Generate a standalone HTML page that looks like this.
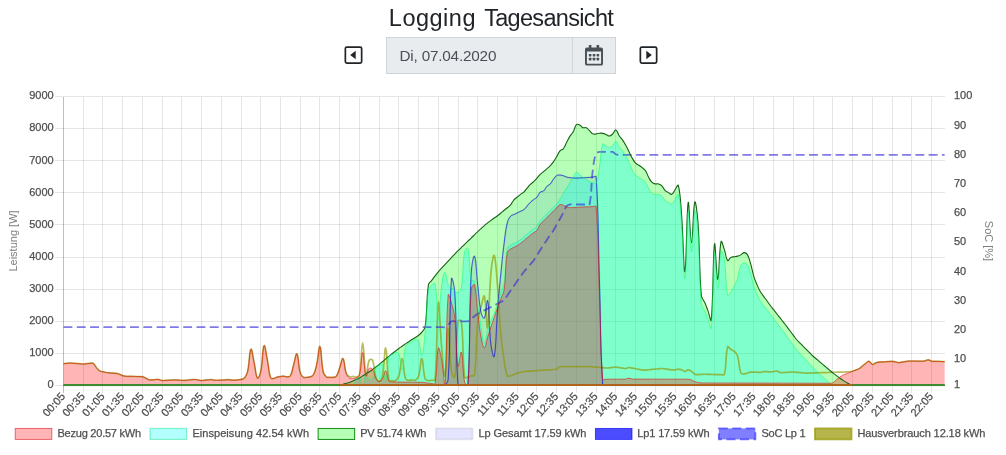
<!DOCTYPE html>
<html lang="de">
<head>
<meta charset="utf-8">
<title>Logging Tagesansicht</title>
<style>
html,body{margin:0;padding:0;background:#fff;}
body{width:1006px;height:455px;position:relative;overflow:hidden;font-family:"Liberation Sans",Arial,sans-serif;}
#title{position:absolute;left:-2px;top:2px;width:1006px;text-align:center;font-size:23.5px;line-height:32px;color:#212529;letter-spacing:-0.08px;}
#datebox{position:absolute;left:386px;top:37px;width:230px;height:37px;box-sizing:border-box;border:1px solid #ced4da;background:#e9ecef;border-radius:0;}
#datebox .txt{position:absolute;left:12.5px;top:0;line-height:35px;font-size:15.3px;color:#495057;letter-spacing:-0.2px;}
#datebox .sep{position:absolute;left:185px;top:0;width:1px;height:35px;background:#ced4da;}
.ico{position:absolute;}
</style>
</head>
<body>
<svg width="1006" height="455" viewBox="0 0 1006 455" style="position:absolute;left:0;top:0">
<g shape-rendering="crispEdges"><line x1="63.5" y1="96.5" x2="63.5" y2="392.8" stroke="rgba(0,0,0,0.25)" stroke-width="1"/>
<line x1="83.5" y1="96.5" x2="83.5" y2="392.8" stroke="rgba(0,0,0,0.1)" stroke-width="1"/>
<line x1="102.5" y1="96.5" x2="102.5" y2="392.8" stroke="rgba(0,0,0,0.1)" stroke-width="1"/>
<line x1="122.5" y1="96.5" x2="122.5" y2="392.8" stroke="rgba(0,0,0,0.1)" stroke-width="1"/>
<line x1="142.5" y1="96.5" x2="142.5" y2="392.8" stroke="rgba(0,0,0,0.1)" stroke-width="1"/>
<line x1="162.5" y1="96.5" x2="162.5" y2="392.8" stroke="rgba(0,0,0,0.1)" stroke-width="1"/>
<line x1="181.5" y1="96.5" x2="181.5" y2="392.8" stroke="rgba(0,0,0,0.1)" stroke-width="1"/>
<line x1="201.5" y1="96.5" x2="201.5" y2="392.8" stroke="rgba(0,0,0,0.1)" stroke-width="1"/>
<line x1="221.5" y1="96.5" x2="221.5" y2="392.8" stroke="rgba(0,0,0,0.1)" stroke-width="1"/>
<line x1="241.5" y1="96.5" x2="241.5" y2="392.8" stroke="rgba(0,0,0,0.1)" stroke-width="1"/>
<line x1="260.5" y1="96.5" x2="260.5" y2="392.8" stroke="rgba(0,0,0,0.1)" stroke-width="1"/>
<line x1="280.5" y1="96.5" x2="280.5" y2="392.8" stroke="rgba(0,0,0,0.1)" stroke-width="1"/>
<line x1="300.5" y1="96.5" x2="300.5" y2="392.8" stroke="rgba(0,0,0,0.1)" stroke-width="1"/>
<line x1="319.5" y1="96.5" x2="319.5" y2="392.8" stroke="rgba(0,0,0,0.1)" stroke-width="1"/>
<line x1="339.5" y1="96.5" x2="339.5" y2="392.8" stroke="rgba(0,0,0,0.1)" stroke-width="1"/>
<line x1="359.5" y1="96.5" x2="359.5" y2="392.8" stroke="rgba(0,0,0,0.1)" stroke-width="1"/>
<line x1="379.5" y1="96.5" x2="379.5" y2="392.8" stroke="rgba(0,0,0,0.1)" stroke-width="1"/>
<line x1="398.5" y1="96.5" x2="398.5" y2="392.8" stroke="rgba(0,0,0,0.1)" stroke-width="1"/>
<line x1="418.5" y1="96.5" x2="418.5" y2="392.8" stroke="rgba(0,0,0,0.1)" stroke-width="1"/>
<line x1="438.5" y1="96.5" x2="438.5" y2="392.8" stroke="rgba(0,0,0,0.1)" stroke-width="1"/>
<line x1="458.5" y1="96.5" x2="458.5" y2="392.8" stroke="rgba(0,0,0,0.1)" stroke-width="1"/>
<line x1="477.5" y1="96.5" x2="477.5" y2="392.8" stroke="rgba(0,0,0,0.1)" stroke-width="1"/>
<line x1="497.5" y1="96.5" x2="497.5" y2="392.8" stroke="rgba(0,0,0,0.1)" stroke-width="1"/>
<line x1="517.5" y1="96.5" x2="517.5" y2="392.8" stroke="rgba(0,0,0,0.1)" stroke-width="1"/>
<line x1="536.5" y1="96.5" x2="536.5" y2="392.8" stroke="rgba(0,0,0,0.1)" stroke-width="1"/>
<line x1="556.5" y1="96.5" x2="556.5" y2="392.8" stroke="rgba(0,0,0,0.1)" stroke-width="1"/>
<line x1="576.5" y1="96.5" x2="576.5" y2="392.8" stroke="rgba(0,0,0,0.1)" stroke-width="1"/>
<line x1="596.5" y1="96.5" x2="596.5" y2="392.8" stroke="rgba(0,0,0,0.1)" stroke-width="1"/>
<line x1="615.5" y1="96.5" x2="615.5" y2="392.8" stroke="rgba(0,0,0,0.1)" stroke-width="1"/>
<line x1="635.5" y1="96.5" x2="635.5" y2="392.8" stroke="rgba(0,0,0,0.1)" stroke-width="1"/>
<line x1="655.5" y1="96.5" x2="655.5" y2="392.8" stroke="rgba(0,0,0,0.1)" stroke-width="1"/>
<line x1="675.5" y1="96.5" x2="675.5" y2="392.8" stroke="rgba(0,0,0,0.1)" stroke-width="1"/>
<line x1="694.5" y1="96.5" x2="694.5" y2="392.8" stroke="rgba(0,0,0,0.1)" stroke-width="1"/>
<line x1="714.5" y1="96.5" x2="714.5" y2="392.8" stroke="rgba(0,0,0,0.1)" stroke-width="1"/>
<line x1="734.5" y1="96.5" x2="734.5" y2="392.8" stroke="rgba(0,0,0,0.1)" stroke-width="1"/>
<line x1="753.5" y1="96.5" x2="753.5" y2="392.8" stroke="rgba(0,0,0,0.1)" stroke-width="1"/>
<line x1="773.5" y1="96.5" x2="773.5" y2="392.8" stroke="rgba(0,0,0,0.1)" stroke-width="1"/>
<line x1="793.5" y1="96.5" x2="793.5" y2="392.8" stroke="rgba(0,0,0,0.1)" stroke-width="1"/>
<line x1="813.5" y1="96.5" x2="813.5" y2="392.8" stroke="rgba(0,0,0,0.1)" stroke-width="1"/>
<line x1="832.5" y1="96.5" x2="832.5" y2="392.8" stroke="rgba(0,0,0,0.1)" stroke-width="1"/>
<line x1="852.5" y1="96.5" x2="852.5" y2="392.8" stroke="rgba(0,0,0,0.1)" stroke-width="1"/>
<line x1="872.5" y1="96.5" x2="872.5" y2="392.8" stroke="rgba(0,0,0,0.1)" stroke-width="1"/>
<line x1="892.5" y1="96.5" x2="892.5" y2="392.8" stroke="rgba(0,0,0,0.1)" stroke-width="1"/>
<line x1="911.5" y1="96.5" x2="911.5" y2="392.8" stroke="rgba(0,0,0,0.1)" stroke-width="1"/>
<line x1="931.5" y1="96.5" x2="931.5" y2="392.8" stroke="rgba(0,0,0,0.1)" stroke-width="1"/>
<line x1="55.0" y1="385.5" x2="945.2" y2="385.5" stroke="rgba(0,0,0,0.1)" stroke-width="1"/>
<line x1="55.0" y1="353.5" x2="945.2" y2="353.5" stroke="rgba(0,0,0,0.1)" stroke-width="1"/>
<line x1="55.0" y1="321.5" x2="945.2" y2="321.5" stroke="rgba(0,0,0,0.1)" stroke-width="1"/>
<line x1="55.0" y1="289.5" x2="945.2" y2="289.5" stroke="rgba(0,0,0,0.1)" stroke-width="1"/>
<line x1="55.0" y1="257.5" x2="945.2" y2="257.5" stroke="rgba(0,0,0,0.1)" stroke-width="1"/>
<line x1="55.0" y1="224.5" x2="945.2" y2="224.5" stroke="rgba(0,0,0,0.1)" stroke-width="1"/>
<line x1="55.0" y1="192.5" x2="945.2" y2="192.5" stroke="rgba(0,0,0,0.1)" stroke-width="1"/>
<line x1="55.0" y1="160.5" x2="945.2" y2="160.5" stroke="rgba(0,0,0,0.1)" stroke-width="1"/>
<line x1="55.0" y1="128.5" x2="945.2" y2="128.5" stroke="rgba(0,0,0,0.1)" stroke-width="1"/>
<line x1="55.0" y1="96.5" x2="945.2" y2="96.5" stroke="rgba(0,0,0,0.1)" stroke-width="1"/></g>
<g>
<path d="M63.50 385.50L66.79 385.50L70.08 385.50L73.36 385.50L76.65 385.50L79.94 385.50L83.23 385.50L86.52 385.50L89.80 385.50L93.09 385.50L96.38 385.50L99.67 385.50L102.95 385.50L106.24 385.50L109.53 385.50L112.82 385.50L116.11 385.50L119.39 385.50L122.68 385.50L125.97 385.50L129.26 385.50L132.55 385.50L135.83 385.50L139.12 385.50L142.41 385.50L145.70 385.50L148.98 385.50L152.27 385.50L155.56 385.50L158.85 385.50L162.14 385.50L165.42 385.50L168.71 385.50L172.00 385.50L175.29 385.50L178.58 385.50L181.86 385.50L185.15 385.50L188.44 385.50L191.73 385.50L195.02 385.50L198.30 385.50L201.59 385.50L204.88 385.50L208.17 385.50L211.45 385.50L214.74 385.50L218.03 385.50L221.32 385.50L224.61 385.50L227.89 385.50L231.18 385.50L234.47 385.50L237.76 385.50L241.05 385.50L244.33 385.50L247.62 385.50L250.91 385.50L254.20 385.50L257.48 385.50L260.77 385.50L264.06 385.50L267.35 385.50L270.64 385.50L273.92 385.50L277.21 385.50L280.50 385.50L283.79 385.50L287.08 385.50L290.36 385.50L293.65 385.50L296.94 385.50L300.23 385.50L303.52 385.50L306.80 385.50L310.09 385.50L313.38 385.50L316.67 385.50L319.95 385.50L323.24 385.50L326.53 385.50L329.82 385.50L333.11 385.50L336.39 385.50L339.68 385.50L342.97 385.50L346.26 385.50L349.55 385.50L352.83 385.50L356.12 385.50L359.41 385.50L362.70 385.50L365.98 385.50L369.27 385.50L372.56 385.50L375.85 385.50L379.14 385.50L382.42 385.50L385.71 385.50L389.00 385.50L392.29 385.50L395.58 385.50L398.86 385.50L402.15 385.50L405.44 385.50L408.73 385.50L412.02 385.50L415.30 385.50L418.59 385.50L421.88 385.50L425.17 385.50L428.45 385.50L431.74 385.50L435.03 385.50L438.32 385.50L441.61 385.50L444.89 385.50C446.70 383.74 448.01 381.94 448.18 379.08C450.64 339.30 449.16 309.35 451.47 278.89C451.79 274.67 454.42 286.85 454.76 292.38C457.05 329.49 455.50 349.52 458.05 385.50L461.33 385.50L464.62 385.50L467.91 385.50C470.46 341.82 468.92 317.96 471.20 273.11C471.55 266.20 473.51 254.28 474.48 256.09C476.14 259.16 476.41 273.63 477.77 285.31C479.04 296.24 478.93 301.97 481.06 312.61C481.56 315.07 483.65 319.33 484.35 318.07C486.28 314.57 486.88 297.68 487.64 300.73C489.52 308.34 488.87 327.25 490.92 344.72C491.50 349.60 493.65 359.46 494.21 356.60C496.28 345.98 496.05 329.23 497.50 311.00C498.68 296.22 499.35 288.83 500.79 274.07C501.98 261.86 502.52 255.74 504.08 243.57C505.15 235.12 505.40 230.74 507.36 222.54C508.03 219.76 508.91 218.24 510.65 216.11C511.54 215.03 512.62 215.15 513.94 214.51C515.25 213.87 515.91 213.54 517.23 212.90C518.54 212.26 519.20 211.94 520.52 211.30C521.83 210.66 522.69 210.59 523.80 209.69C525.32 208.47 525.78 207.47 527.09 205.99C528.41 204.50 528.96 203.66 530.38 202.28C531.59 201.10 532.33 200.64 533.67 199.60C534.96 198.61 535.90 198.40 536.95 197.20C538.53 195.39 538.56 193.65 540.24 192.07C541.20 191.18 542.54 191.87 543.53 191.00C545.17 189.58 545.27 187.97 546.82 186.36C547.90 185.24 549.05 185.31 550.11 184.17C551.68 182.49 551.97 181.17 553.39 179.31C554.60 177.73 555.10 176.59 556.68 175.57C557.74 174.89 558.66 175.03 559.97 175.05C561.29 175.07 561.98 175.29 563.26 175.67C564.61 176.07 565.19 176.61 566.55 177.02C567.82 177.40 568.51 177.46 569.83 177.66C571.14 177.85 571.80 177.92 573.12 177.99C574.43 178.07 575.09 178.06 576.41 178.03C577.72 178.01 578.38 177.94 579.70 177.88C581.01 177.82 581.67 177.79 582.98 177.73C584.30 177.67 584.96 177.64 586.27 177.57C587.59 177.51 588.25 177.51 589.56 177.42C590.88 177.32 591.53 177.23 592.85 177.10C594.16 176.97 596.05 175.50 596.14 176.78C598.68 216.48 598.13 238.43 599.42 279.53C600.76 321.92 600.16 344.39 602.71 385.50L606.00 385.50L609.29 385.50L612.58 385.50L615.86 385.50L619.15 385.50L622.44 385.50L625.73 385.50L629.02 385.50L632.30 385.50L635.59 385.50L638.88 385.50L642.17 385.50L645.45 385.50L648.74 385.50L652.03 385.50L655.32 385.50L658.61 385.50L661.89 385.50L665.18 385.50L668.47 385.50L671.76 385.50L675.05 385.50L678.33 385.50L681.62 385.50L684.91 385.50L688.20 385.50L691.48 385.50L694.77 385.50L698.06 385.50L701.35 385.50L704.64 385.50L707.92 385.50L711.21 385.50L714.50 385.50L717.79 385.50L721.08 385.50L724.36 385.50L727.65 385.50L730.94 385.50L734.23 385.50L737.52 385.50L740.80 385.50L744.09 385.50L747.38 385.50L750.67 385.50L753.95 385.50L757.24 385.50L760.53 385.50L763.82 385.50L767.11 385.50L770.39 385.50L773.68 385.50L776.97 385.50L780.26 385.50L783.55 385.50L786.83 385.50L790.12 385.50L793.41 385.50L796.70 385.50L799.98 385.50L803.27 385.50L806.56 385.50L809.85 385.50L813.14 385.50L816.42 385.50L819.71 385.50L823.00 385.50L826.29 385.50L829.58 385.50L832.86 385.50L836.15 385.50L839.44 385.50L842.73 385.50L846.02 385.50L849.30 385.50L852.59 385.50L855.88 385.50L859.17 385.50L862.45 385.50L865.74 385.50L869.03 385.50L872.32 385.50L875.61 385.50L878.89 385.50L882.18 385.50L885.47 385.50L888.76 385.50L892.05 385.50L895.33 385.50L898.62 385.50L901.91 385.50L905.20 385.50L908.48 385.50L911.77 385.50L915.06 385.50L918.35 385.50L921.64 385.50L924.92 385.50L928.21 385.50L931.50 385.50L934.79 385.50L938.08 385.50L941.36 385.50L944.65 385.50L944.65 385.50L63.50 385.50Z" fill="rgba(0,0,255,0.1)" stroke="none"/>

<path d="M63.50 385.50L66.79 385.50L70.08 385.50L73.36 385.50L76.65 385.50L79.94 385.50L83.23 385.50L86.52 385.50L89.80 385.50L93.09 385.50L96.38 385.50L99.67 385.50L102.95 385.50L106.24 385.50L109.53 385.50L112.82 385.50L116.11 385.50L119.39 385.50L122.68 385.50L125.97 385.50L129.26 385.50L132.55 385.50L135.83 385.50L139.12 385.50L142.41 385.50L145.70 385.50L148.98 385.50L152.27 385.50L155.56 385.50L158.85 385.50L162.14 385.50L165.42 385.50L168.71 385.50L172.00 385.50L175.29 385.50L178.58 385.50L181.86 385.50L185.15 385.50L188.44 385.50L191.73 385.50L195.02 385.50L198.30 385.50L201.59 385.50L204.88 385.50L208.17 385.50L211.45 385.50L214.74 385.50L218.03 385.50L221.32 385.50L224.61 385.50L227.89 385.50L231.18 385.50L234.47 385.50L237.76 385.50L241.05 385.50L244.33 385.50L247.62 385.50L250.91 385.50L254.20 385.50L257.48 385.50L260.77 385.50L264.06 385.50L267.35 385.50L270.64 385.50L273.92 385.50L277.21 385.50L280.50 385.50L283.79 385.50L287.08 385.50L290.36 385.50L293.65 385.50L296.94 385.50L300.23 385.50L303.52 385.50L306.80 385.50L310.09 385.50L313.38 385.50L316.67 385.50L319.95 385.50L323.24 385.50L326.53 385.50L329.82 385.50L333.11 385.50L336.39 385.50C337.72 385.40 338.38 385.28 339.68 385.02C341.01 384.75 341.65 384.50 342.97 384.16C344.28 383.82 344.94 383.65 346.26 383.31C347.57 382.96 348.27 382.91 349.55 382.45C350.90 381.96 351.52 381.55 352.83 380.95C354.15 380.35 354.81 380.05 356.12 379.45C357.44 378.84 358.14 378.63 359.41 377.94C360.77 377.21 361.39 376.72 362.70 375.89C364.02 375.06 364.67 374.63 365.98 373.78C367.30 372.94 367.97 372.54 369.27 371.67C370.60 370.80 371.26 370.35 372.56 369.43C373.89 368.48 374.53 367.97 375.85 366.99C377.16 366.01 377.86 365.57 379.14 364.55C380.49 363.48 381.11 362.88 382.42 361.75C383.74 360.62 384.40 360.05 385.71 358.92C387.03 357.78 387.66 357.18 389.00 356.08C390.29 355.03 390.97 354.55 392.29 353.53C393.60 352.52 394.26 352.02 395.58 351.02C396.89 350.01 397.53 349.48 398.86 348.50C400.16 347.55 400.83 347.11 402.15 346.19C403.46 345.28 404.12 344.82 405.44 343.91C406.75 343.01 407.40 342.55 408.73 341.67C410.03 340.81 410.70 340.40 412.02 339.55C413.33 338.70 413.99 338.27 415.30 337.42C416.62 336.57 417.37 336.27 418.59 335.30C420.00 334.18 420.79 333.62 421.88 332.20C423.42 330.19 424.82 329.23 425.17 326.74C427.45 310.22 426.13 301.11 428.45 284.67C428.76 282.54 430.43 282.05 431.74 280.31C433.06 278.56 433.69 277.67 435.03 275.94C436.32 274.27 436.95 273.41 438.32 271.80C439.58 270.30 440.29 269.61 441.61 268.16C442.92 266.73 443.57 266.01 444.89 264.58C446.20 263.18 446.87 262.49 448.18 261.09C449.50 259.69 450.15 258.99 451.47 257.59C452.79 256.19 453.43 255.47 454.76 254.09C456.06 252.73 456.72 252.06 458.05 250.73C459.35 249.43 460.02 248.80 461.33 247.52C462.65 246.23 463.30 245.58 464.62 244.31C465.93 243.04 466.59 242.42 467.91 241.17C469.22 239.91 469.89 239.30 471.20 238.03C472.52 236.75 473.17 236.09 474.48 234.80C475.80 233.50 476.43 232.82 477.77 231.54C479.06 230.32 479.73 229.72 481.06 228.54C482.36 227.38 483.03 226.83 484.35 225.69C485.66 224.55 486.29 223.94 487.64 222.84C488.92 221.81 489.59 221.33 490.92 220.36C492.22 219.40 492.90 218.96 494.21 218.02C495.53 217.09 496.22 216.66 497.50 215.69C498.85 214.67 499.49 214.12 500.79 213.04C502.12 211.94 502.73 211.33 504.08 210.25C505.36 209.21 506.09 208.79 507.36 207.73C508.72 206.60 509.53 206.13 510.65 204.78C512.16 202.96 512.41 201.60 513.94 199.80C515.04 198.50 515.90 198.12 517.23 197.02C518.53 195.93 519.16 195.36 520.52 194.33C521.79 193.36 522.64 193.13 523.80 192.04C525.27 190.65 525.77 189.70 527.09 188.15C528.40 186.63 528.95 185.77 530.38 184.37C531.58 183.18 532.44 182.86 533.67 181.69C535.07 180.35 535.65 179.54 536.95 178.09C538.28 176.60 538.82 175.73 540.24 174.34C541.45 173.15 542.22 172.72 543.53 171.63C544.85 170.52 545.52 169.96 546.82 168.82C548.15 167.66 548.89 167.15 550.11 165.88C551.52 164.39 552.19 163.57 553.39 161.90C554.82 159.92 555.43 158.84 556.68 156.73C558.06 154.40 558.29 152.83 559.97 150.80C560.92 149.65 562.32 149.94 563.26 148.78C564.95 146.66 565.23 145.06 566.55 142.58C567.86 140.10 568.35 138.75 569.83 136.38C570.98 134.56 572.07 133.97 573.12 132.10C574.70 129.28 574.54 126.66 576.41 124.65C577.17 123.83 578.54 124.49 579.70 125.03C581.17 125.71 581.51 127.08 582.98 127.68C584.14 128.14 585.16 127.17 586.27 127.68C587.79 128.37 588.26 129.47 589.56 130.70C590.89 131.95 591.32 133.11 592.85 133.88C593.95 134.43 594.84 134.12 596.14 133.99C597.47 133.85 598.09 133.32 599.42 133.20C600.72 133.08 601.43 133.13 602.71 133.38C604.06 133.65 604.71 133.97 606.00 134.49C607.34 135.04 608.01 136.12 609.29 136.04C610.64 135.94 611.47 135.08 612.58 134.05C614.10 132.63 614.70 129.62 615.86 129.91C617.33 130.28 617.69 133.49 619.15 135.71C620.32 137.48 621.23 138.14 622.44 139.88C623.86 141.92 624.53 142.97 625.73 145.15C627.16 147.76 627.68 149.17 629.02 151.84C630.31 154.44 630.84 155.81 632.30 158.31C633.47 160.33 634.02 161.47 635.59 163.13C636.65 164.24 637.59 164.35 638.88 165.24C640.22 166.17 640.90 166.64 642.17 167.68C643.53 168.79 644.49 169.17 645.45 170.61C647.12 173.11 647.26 174.86 648.74 177.53C649.89 179.60 650.39 180.88 652.03 182.47C653.02 183.43 653.95 183.61 655.32 183.91C656.58 184.18 657.39 183.55 658.61 183.91C660.02 184.31 660.85 184.75 661.89 185.81C663.48 187.41 663.61 188.92 665.18 190.55C666.24 191.65 667.12 191.85 668.47 192.62C669.75 193.34 670.71 194.73 671.76 194.28C673.34 193.60 673.73 191.58 675.05 189.78C676.36 187.98 677.92 183.70 678.33 185.29C680.55 193.91 680.70 203.27 681.62 215.31C683.33 237.82 683.73 273.97 684.91 271.67C686.36 268.84 686.54 209.77 688.20 202.47C689.17 198.21 690.17 242.83 691.48 242.77C692.81 242.70 693.05 207.24 694.77 202.15C695.68 199.47 697.46 214.79 698.06 223.34C700.09 252.17 698.97 266.96 701.35 295.59C701.60 298.56 703.44 299.58 704.64 302.33C706.07 305.62 706.67 307.32 707.92 310.68C709.30 314.38 710.91 323.06 711.21 319.99C713.54 296.34 712.71 254.96 714.50 243.89C715.34 238.71 716.51 279.81 717.79 279.37C719.14 278.91 718.94 251.31 721.08 241.64C721.57 239.43 723.23 246.40 724.36 249.67C725.86 253.97 725.78 258.39 727.65 260.59C728.41 261.47 729.42 258.26 730.94 257.38C732.05 256.73 732.91 257.01 734.23 256.76C735.54 256.51 736.24 256.51 737.52 256.14C738.87 255.75 739.57 255.53 740.80 254.86C742.20 254.10 742.76 252.62 744.09 252.58C745.39 252.54 746.63 253.36 747.38 254.65C749.26 257.89 749.55 260.13 750.67 263.89C752.18 269.01 752.38 271.74 753.95 276.84C755.01 280.29 755.81 281.93 757.24 285.25C758.44 288.03 759.01 289.47 760.53 292.08C761.64 293.99 762.50 294.76 763.82 296.55C765.13 298.34 765.79 299.23 767.11 301.02C768.42 302.81 769.06 303.71 770.39 305.49C771.69 307.21 772.36 308.06 773.68 309.77C774.99 311.45 775.65 312.29 776.97 313.97C778.28 315.65 778.94 316.49 780.26 318.17C781.57 319.85 782.24 320.68 783.55 322.36C784.87 324.08 785.52 324.96 786.83 326.69C788.15 328.42 788.81 329.30 790.12 331.04C791.44 332.78 792.09 333.65 793.41 335.39C794.72 337.13 795.28 338.09 796.70 339.74C797.91 341.15 798.67 341.73 799.98 343.05C801.30 344.37 801.96 345.04 803.27 346.36C804.59 347.68 805.25 348.35 806.56 349.67C807.88 350.99 808.53 351.66 809.85 352.98C811.16 354.29 811.77 354.98 813.14 356.24C814.40 357.40 815.11 357.91 816.42 359.02C817.74 360.13 818.40 360.69 819.71 361.80C821.03 362.92 821.68 363.47 823.00 364.58C824.32 365.70 824.97 366.25 826.29 367.37C827.60 368.48 828.26 369.04 829.58 370.15C830.89 371.26 831.52 371.84 832.86 372.90C834.15 373.92 834.84 374.38 836.15 375.37C837.47 376.35 838.11 376.87 839.44 377.83C840.74 378.78 841.38 379.27 842.73 380.16C844.01 381.00 844.69 381.36 846.02 382.14C847.32 382.91 847.95 383.34 849.30 384.03C850.58 384.68 851.22 385.19 852.59 385.50L855.88 385.50L859.17 385.50L862.45 385.50L865.74 385.50L869.03 385.50L872.32 385.50L875.61 385.50L878.89 385.50L882.18 385.50L885.47 385.50L888.76 385.50L892.05 385.50L895.33 385.50L898.62 385.50L901.91 385.50L905.20 385.50L908.48 385.50L911.77 385.50L915.06 385.50L918.35 385.50L921.64 385.50L924.92 385.50L928.21 385.50L931.50 385.50L934.79 385.50L938.08 385.50L941.36 385.50L944.65 385.50L944.65 385.50L63.50 385.50Z" fill="rgba(10,255,13,0.3)" stroke="none"/>

<path d="M63.50 385.50L66.79 385.50L70.08 385.50L73.36 385.50L76.65 385.50L79.94 385.50L83.23 385.50L86.52 385.50L89.80 385.50L93.09 385.50L96.38 385.50L99.67 385.50L102.95 385.50L106.24 385.50L109.53 385.50L112.82 385.50L116.11 385.50L119.39 385.50L122.68 385.50L125.97 385.50L129.26 385.50L132.55 385.50L135.83 385.50L139.12 385.50L142.41 385.50L145.70 385.50L148.98 385.50L152.27 385.50L155.56 385.50L158.85 385.50L162.14 385.50L165.42 385.50L168.71 385.50L172.00 385.50L175.29 385.50L178.58 385.50L181.86 385.50L185.15 385.50L188.44 385.50L191.73 385.50L195.02 385.50L198.30 385.50L201.59 385.50L204.88 385.50L208.17 385.50L211.45 385.50L214.74 385.50L218.03 385.50L221.32 385.50L224.61 385.50L227.89 385.50L231.18 385.50L234.47 385.50L237.76 385.50L241.05 385.50L244.33 385.50L247.62 385.50L250.91 385.50L254.20 385.50L257.48 385.50L260.77 385.50L264.06 385.50L267.35 385.50L270.64 385.50L273.92 385.50L277.21 385.50L280.50 385.50L283.79 385.50L287.08 385.50L290.36 385.50L293.65 385.50L296.94 385.50L300.23 385.50L303.52 385.50L306.80 385.50L310.09 385.50L313.38 385.50L316.67 385.50L319.95 385.50L323.24 385.50L326.53 385.50L329.82 385.50L333.11 385.50L336.39 385.50L339.68 385.50L342.97 385.50L346.26 385.50L349.55 385.50L352.83 385.50C354.58 384.02 354.50 381.87 356.12 379.93C357.13 378.72 358.56 376.92 359.41 377.62C361.19 379.10 361.60 385.50 362.70 385.37C364.23 384.55 364.27 375.67 365.98 374.11C366.90 373.28 367.58 378.27 369.27 379.38C370.21 379.99 371.95 379.52 372.56 378.42C374.58 374.82 373.96 371.58 375.85 367.63C376.59 366.09 377.63 365.40 379.14 364.71C380.26 364.20 382.00 363.57 382.42 364.64C384.63 370.18 384.65 382.56 385.71 381.23C387.28 379.27 386.72 365.69 389.00 356.40C389.35 354.99 391.01 355.32 392.29 354.50C393.64 353.63 394.22 352.27 395.58 352.18C396.85 352.09 398.35 352.70 398.86 354.03C400.99 359.60 401.07 370.54 402.15 369.42C403.70 367.83 403.31 355.77 405.44 347.26C405.94 345.26 407.17 344.49 408.73 343.14C409.80 342.20 410.79 342.31 412.02 341.53C413.42 340.64 413.94 339.06 415.30 338.96C416.57 338.86 418.05 339.66 418.59 341.04C420.68 346.34 420.88 357.08 421.88 355.64C423.51 353.29 424.20 341.22 425.17 331.55C426.83 315.02 426.15 306.35 428.45 290.13C428.78 287.85 430.13 286.89 431.74 285.31C432.76 284.32 434.79 282.44 435.03 283.71C437.42 296.19 436.97 319.34 438.32 319.67C439.60 319.99 439.72 298.96 441.61 285.31C442.35 279.95 443.53 272.35 444.89 272.15C446.16 271.96 446.25 279.83 448.18 284.35C448.88 285.99 450.15 286.28 451.47 287.56C452.78 288.85 453.29 289.70 454.76 290.77C455.92 291.63 457.03 292.87 458.05 292.38C459.66 291.59 460.97 289.83 461.33 287.56C463.60 273.52 462.29 265.50 464.62 251.60C464.92 249.83 467.57 246.96 467.91 248.39C470.20 258.13 468.84 267.80 471.20 279.53C471.47 280.90 474.14 279.79 474.48 281.14C476.77 290.07 476.41 295.60 477.77 305.22C479.04 314.22 479.51 318.75 481.06 327.70C482.14 333.91 482.89 342.40 484.35 343.11C485.52 343.68 486.18 335.75 487.64 330.91C488.81 327.01 489.50 325.09 490.92 321.28C492.13 318.03 493.00 316.50 494.21 313.25C495.63 309.44 496.28 307.50 497.50 303.62C498.91 299.15 499.38 296.84 500.79 292.38C502.01 288.50 503.48 286.75 504.08 282.74C506.11 269.16 505.04 261.65 507.36 248.39C507.67 246.62 509.19 246.26 510.65 245.17C511.82 244.30 512.62 244.17 513.94 243.50C515.25 242.83 515.97 242.59 517.23 241.82C518.60 240.99 519.23 240.46 520.52 239.49C521.86 238.48 522.50 237.93 523.80 236.87C525.13 235.79 525.78 235.23 527.09 234.13C528.41 233.03 529.04 232.44 530.38 231.37C531.67 230.34 532.35 229.87 533.67 228.88C534.98 227.88 535.96 227.66 536.95 226.39C538.59 224.29 538.68 222.64 540.24 220.45C541.31 218.94 542.22 218.46 543.53 217.13C544.85 215.80 545.50 215.14 546.82 213.81C548.13 212.49 548.79 211.82 550.11 210.49C551.42 209.18 552.08 208.54 553.39 207.23C554.71 205.93 555.51 205.40 556.68 203.97C558.14 202.20 558.74 201.19 559.97 199.26C561.37 197.06 561.94 195.88 563.26 193.64C564.57 191.39 565.20 190.24 566.55 188.02C567.83 185.90 568.52 184.87 569.83 182.77C571.15 180.67 571.81 179.62 573.12 177.53C574.44 175.43 574.84 172.92 576.41 172.28C577.47 171.85 578.38 173.82 579.70 174.85C581.01 175.88 581.62 176.46 582.98 177.42C584.25 178.32 584.96 178.67 586.27 179.51C587.59 180.34 588.16 180.95 589.56 181.59C590.79 182.17 591.53 182.17 592.85 182.56C594.16 182.94 595.69 184.57 596.14 183.52C598.32 178.41 598.32 173.73 599.42 167.14C600.95 158.00 600.44 151.51 602.71 144.19C603.07 143.01 604.66 145.26 606.00 145.89C607.29 146.50 608.01 147.36 609.29 147.27C610.64 147.18 611.47 146.42 612.58 145.45C614.10 144.10 614.70 141.19 615.86 141.47C617.33 141.82 617.69 144.91 619.15 147.03C620.32 148.71 621.23 149.31 622.44 150.96C623.86 152.89 624.54 153.90 625.73 155.99C627.17 158.50 627.80 159.81 629.02 162.44C630.43 165.50 630.76 167.21 632.30 170.19C633.39 172.31 634.02 173.44 635.59 175.17C636.65 176.33 637.55 176.55 638.88 177.44C640.18 178.31 640.90 178.64 642.17 179.56C643.53 180.54 644.50 180.83 645.45 182.17C647.13 184.52 647.25 186.23 648.74 188.77C649.88 190.72 650.40 191.96 652.03 193.38C653.03 194.25 653.97 194.31 655.32 194.50C656.60 194.68 657.37 194.02 658.61 194.30C660.00 194.62 660.85 195.01 661.89 196.00C663.48 197.51 663.61 199.02 665.18 200.55C666.24 201.58 667.12 201.73 668.47 202.41C669.75 203.06 670.74 204.37 671.76 203.87C673.37 203.08 673.73 201.05 675.05 199.18C676.36 197.30 677.91 192.87 678.33 194.48C680.54 202.92 680.69 212.34 681.62 224.30C683.32 246.04 683.73 281.03 684.91 278.73C686.36 275.89 686.55 218.24 688.20 211.46C689.18 207.40 690.18 251.74 691.48 251.62C692.81 251.50 693.04 216.04 694.77 210.86C695.67 208.16 697.46 223.42 698.06 231.92C700.09 260.69 698.96 275.46 701.35 304.03C701.59 306.95 703.44 307.94 704.64 310.64C706.07 313.87 706.67 315.54 707.92 318.85C709.30 322.49 710.91 331.05 711.21 328.02C713.54 304.49 712.72 263.16 714.50 252.45C715.35 247.34 716.49 288.70 717.79 288.47C719.12 288.23 718.94 260.74 721.08 251.28C721.57 249.08 723.85 255.90 724.36 259.30C726.48 273.49 725.32 283.65 727.65 295.27C727.95 296.75 729.91 293.56 730.94 292.06C732.54 289.71 732.96 288.24 734.23 285.66C735.59 282.87 736.56 281.56 737.52 278.62C739.19 273.48 738.79 270.26 740.80 265.46C741.42 263.99 742.72 263.09 744.09 262.96C745.35 262.84 746.64 263.59 747.38 264.82C749.27 267.94 749.56 270.17 750.67 273.84C752.19 278.87 752.38 281.57 753.95 286.58C755.01 289.94 755.81 291.55 757.24 294.77C758.44 297.47 759.01 298.87 760.53 301.39C761.64 303.22 762.50 303.94 763.82 305.65C765.13 307.35 765.79 308.20 767.11 309.90C768.42 311.60 769.10 312.44 770.39 314.16C771.73 315.93 772.36 316.85 773.68 318.63C774.99 320.39 775.65 321.26 776.97 323.02C778.28 324.78 778.94 325.66 780.26 327.41C781.57 329.17 782.24 330.04 783.55 331.81C784.87 333.60 785.52 334.51 786.83 336.32C788.15 338.14 788.81 339.05 790.12 340.86C791.44 342.68 792.09 343.59 793.41 345.41C794.72 347.23 795.28 348.22 796.70 349.95C797.91 351.44 798.67 352.05 799.98 353.46C801.30 354.86 801.97 355.55 803.27 356.96C804.60 358.39 805.25 359.13 806.56 360.57C807.88 362.02 808.53 362.75 809.85 364.19C811.16 365.62 811.77 366.37 813.14 367.75C814.40 369.03 815.11 369.60 816.42 370.84C817.74 372.07 818.40 372.69 819.71 373.93C821.03 375.16 821.68 375.78 823.00 377.02C824.32 378.25 824.97 378.87 826.29 380.11C827.60 381.34 828.18 382.05 829.58 383.19C830.81 384.21 831.42 384.99 832.86 385.50L836.15 385.50L839.44 385.50L842.73 385.50L846.02 385.50L849.30 385.50L852.59 385.50L855.88 385.50L859.17 385.50L862.45 385.50L865.74 385.50L869.03 385.50L872.32 385.50L875.61 385.50L878.89 385.50L882.18 385.50L885.47 385.50L888.76 385.50L892.05 385.50L895.33 385.50L898.62 385.50L901.91 385.50L905.20 385.50L908.48 385.50L911.77 385.50L915.06 385.50L918.35 385.50L921.64 385.50L924.92 385.50L928.21 385.50L931.50 385.50L934.79 385.50L938.08 385.50L941.36 385.50L944.65 385.50L944.65 385.50L63.50 385.50Z" fill="rgba(0,255,255,0.3)" stroke="none"/>

<path d="M63.50 363.66C64.82 363.54 65.47 363.47 66.79 363.34C68.10 363.21 68.76 363.04 70.08 363.02C71.39 363.01 72.05 363.17 73.36 363.26C74.68 363.36 75.34 363.41 76.65 363.50C77.97 363.60 78.62 363.65 79.94 363.74C81.25 363.84 81.91 364.00 83.23 363.99C84.54 363.97 85.20 363.79 86.52 363.66C87.83 363.54 88.48 363.41 89.80 363.34C91.12 363.28 92.09 362.71 93.09 363.34C94.72 364.37 94.98 365.92 96.38 367.52C97.61 368.94 98.14 369.92 99.67 370.89C100.77 371.59 101.64 371.37 102.95 371.69C104.27 372.01 104.91 372.26 106.24 372.50C107.54 372.72 108.21 372.73 109.53 372.85C110.84 372.97 111.50 373.00 112.82 373.09C114.13 373.19 114.81 373.12 116.11 373.34C117.44 373.56 118.12 373.73 119.39 374.18C120.75 374.64 121.32 375.19 122.68 375.61C123.95 376.01 124.64 376.10 125.97 376.24C127.27 376.38 127.94 376.29 129.26 376.32C130.57 376.36 131.23 376.37 132.55 376.41C133.86 376.44 134.52 376.46 135.83 376.49C137.15 376.53 137.81 376.54 139.12 376.58C140.44 376.61 141.15 376.37 142.41 376.66C143.78 376.98 144.39 377.51 145.70 378.11C147.02 378.73 147.60 379.34 148.98 379.72C150.23 380.06 150.96 379.96 152.27 379.92C153.59 379.88 154.24 379.60 155.56 379.52C156.87 379.44 157.56 379.34 158.85 379.53C160.19 379.74 160.79 380.35 162.14 380.52C163.42 380.69 164.11 380.43 165.42 380.37C166.74 380.31 167.40 380.28 168.71 380.22C170.03 380.16 170.68 380.13 172.00 380.07C173.32 380.01 173.97 379.92 175.29 379.93C176.60 379.93 177.26 379.99 178.58 380.08C179.89 380.18 180.55 380.32 181.86 380.38C183.18 380.43 183.84 380.43 185.15 380.35C186.47 380.28 187.12 380.15 188.44 380.01C189.75 379.88 190.41 379.77 191.73 379.67C193.04 379.57 193.71 379.43 195.02 379.50C196.34 379.57 196.99 379.81 198.30 380.01C199.62 380.22 200.27 380.49 201.59 380.52C202.90 380.55 203.56 380.31 204.88 380.17C206.19 380.02 206.85 379.90 208.17 379.81C209.48 379.72 210.15 379.63 211.45 379.71C212.78 379.79 213.42 380.10 214.74 380.21C216.05 380.32 216.72 380.27 218.03 380.24C219.35 380.21 220.00 380.14 221.32 380.07C222.63 380.00 223.29 379.96 224.61 379.89C225.92 379.82 226.58 379.71 227.89 379.72C229.21 379.73 229.87 379.86 231.18 379.96C232.50 380.06 233.16 380.22 234.47 380.20C235.79 380.18 236.45 380.02 237.76 379.84C239.08 379.67 239.76 379.66 241.05 379.32C242.39 378.96 243.50 379.13 244.33 378.11C246.13 375.95 246.96 374.27 247.62 371.37C249.59 362.71 249.30 351.26 250.91 349.21C251.93 347.92 252.94 357.49 254.20 363.02C255.57 369.05 255.71 375.87 257.48 378.11C258.34 379.21 260.18 374.28 260.77 371.37C262.81 361.31 262.37 348.65 264.06 345.68C265.00 344.02 266.18 354.13 267.35 359.81C268.82 366.97 268.41 371.50 270.64 377.79C271.04 378.95 272.65 378.59 273.92 378.44C275.29 378.27 275.85 377.39 277.21 376.99C278.48 376.62 279.18 376.67 280.50 376.51C281.81 376.35 282.48 376.12 283.79 376.19C285.11 376.25 285.78 376.89 287.08 376.83C288.41 376.77 289.77 376.97 290.36 375.87C292.40 372.09 292.31 369.12 293.65 364.63C294.94 360.32 295.96 352.68 296.94 353.87C298.59 355.89 298.20 365.44 300.23 372.66C300.83 374.81 301.85 376.13 303.52 377.31C304.48 377.99 305.49 377.41 306.80 377.31C308.13 377.21 308.87 377.28 310.09 376.83C311.50 376.32 312.69 376.18 313.38 374.90C315.32 371.30 315.70 368.82 316.67 364.63C318.33 357.46 318.86 345.25 319.95 346.49C321.49 348.21 321.11 362.11 323.24 372.01C323.74 374.31 324.84 375.63 326.53 376.99C327.47 377.75 328.50 377.25 329.82 377.31C331.13 377.38 331.83 377.53 333.11 377.31C334.46 377.08 335.66 377.25 336.39 376.19C338.29 373.46 338.43 371.20 339.68 367.84C341.06 364.14 341.93 357.66 342.97 358.53C344.56 359.85 344.36 367.64 346.26 373.30C346.99 375.48 347.86 376.84 349.55 378.11C350.49 378.83 351.52 378.31 352.83 378.27C354.15 378.24 355.01 378.53 356.12 377.95C357.64 377.18 358.97 376.59 359.41 374.90C361.60 366.44 361.41 352.40 362.70 352.59C364.04 352.78 364.05 371.27 365.98 375.87C366.68 377.50 367.42 369.97 369.27 368.16C370.05 367.40 371.84 368.35 372.56 369.44C374.47 372.33 374.12 374.90 375.85 378.11C376.75 379.79 377.73 381.44 379.14 381.65C380.36 381.83 381.59 380.46 382.42 379.08C384.22 376.10 384.52 370.38 385.71 370.73C387.15 371.15 387.00 377.59 389.00 381.00C389.63 382.09 390.95 381.76 392.29 381.97C393.58 382.16 394.26 381.99 395.58 382.00C396.89 382.02 397.55 382.02 398.86 382.04C400.18 382.05 400.84 382.06 402.15 382.07C403.47 382.09 404.12 382.10 405.44 382.11C406.75 382.12 407.41 382.13 408.73 382.15C410.04 382.16 410.70 382.17 412.02 382.18C413.33 382.20 413.99 382.20 415.30 382.22C416.62 382.23 417.28 382.24 418.59 382.25C419.91 382.27 420.57 382.20 421.88 382.29C423.20 382.38 423.85 382.55 425.17 382.72C426.48 382.89 427.14 382.97 428.45 383.15C429.77 383.32 430.42 383.49 431.74 383.57C433.05 383.66 434.81 384.77 435.03 383.57C437.44 370.58 436.36 355.18 438.32 348.09C438.99 345.67 440.77 355.03 441.61 359.81C443.40 369.99 444.31 385.50 444.89 385.50C446.94 365.32 445.78 325.07 448.18 294.95C448.41 292.06 450.52 299.65 451.47 302.97C453.15 308.90 454.12 311.93 454.76 318.07C456.75 337.24 456.02 355.76 458.05 366.23C458.65 369.38 460.48 350.03 461.33 352.10C463.11 356.45 462.34 370.69 464.62 382.29C464.97 384.05 467.79 385.50 467.91 385.50C470.42 349.95 468.71 327.30 471.20 289.17C471.34 286.96 474.06 283.11 474.48 284.67C476.69 292.74 476.35 301.83 477.77 313.25C478.98 322.90 479.25 327.81 481.06 337.33C481.88 341.68 483.03 347.93 484.35 347.93C485.66 347.93 486.30 341.57 487.64 337.33C488.93 333.22 489.57 331.16 490.92 327.06C492.20 323.19 492.90 321.28 494.21 317.42C495.53 313.57 496.14 311.63 497.50 307.79C498.77 304.18 499.47 302.40 500.79 298.80C502.10 295.20 503.54 293.58 504.08 289.81C506.17 274.96 505.02 266.78 507.36 252.24C507.65 250.47 509.19 250.11 510.65 249.03C511.82 248.16 512.62 248.02 513.94 247.35C515.25 246.68 515.97 246.44 517.23 245.68C518.60 244.84 519.23 244.31 520.52 243.34C521.86 242.33 522.50 241.78 523.80 240.72C525.13 239.64 525.78 239.08 527.09 237.99C528.41 236.88 529.04 236.29 530.38 235.22C531.67 234.19 532.35 233.73 533.67 232.73C534.98 231.74 535.96 231.52 536.95 230.24C538.59 228.15 538.68 226.50 540.24 224.30C541.31 222.79 542.22 222.31 543.53 220.98C544.85 219.66 545.50 218.99 546.82 217.67C548.13 216.34 548.79 215.67 550.11 214.35C551.42 213.04 552.08 212.39 553.39 211.09C554.71 209.78 555.37 209.13 556.68 207.83C558.00 206.52 558.44 205.17 559.97 204.56C561.07 204.12 562.00 204.77 563.26 205.20C564.63 205.66 565.18 206.28 566.55 206.80C567.81 207.28 568.50 207.55 569.83 207.69C571.13 207.83 571.81 207.58 573.12 207.51C574.44 207.44 575.09 207.40 576.41 207.33C577.72 207.25 578.38 207.22 579.70 207.14C581.01 207.07 581.67 207.02 582.98 206.96C584.30 206.90 584.96 206.89 586.27 206.84C587.59 206.79 588.25 206.77 589.56 206.72C590.88 206.67 591.53 206.65 592.85 206.60C594.16 206.55 596.04 205.22 596.14 206.48C598.67 239.53 598.12 258.02 599.42 292.38C600.75 327.19 600.18 345.92 602.71 379.40C602.81 380.66 604.68 379.28 606.00 379.24C607.31 379.20 607.97 379.22 609.29 379.21C610.60 379.20 611.26 379.20 612.58 379.18C613.89 379.17 614.55 379.17 615.86 379.16C617.18 379.15 617.84 379.14 619.15 379.13C620.47 379.12 621.12 379.12 622.44 379.10C623.75 379.09 624.44 379.27 625.73 379.08C627.07 378.88 627.70 378.11 629.02 378.11C630.33 378.11 630.96 378.88 632.30 379.08C633.59 379.27 634.28 379.08 635.59 379.09L638.88 379.10L642.17 379.11L645.45 379.11L648.74 379.12L652.03 379.13L655.32 379.14L658.61 379.15L661.89 379.16L665.18 379.17L668.47 379.18L671.76 379.19L675.05 379.20L678.33 379.21L681.62 379.21L684.91 379.22C686.22 379.23 686.90 379.09 688.20 379.23C689.53 379.37 690.23 379.47 691.48 379.93C692.87 380.43 693.40 381.12 694.77 381.65C696.03 382.13 696.73 382.19 698.06 382.45C699.36 382.70 700.03 382.84 701.35 382.93C702.66 383.03 703.32 382.94 704.64 382.94L707.92 382.95L711.21 382.96L714.50 382.97L717.79 382.98L721.08 382.98L724.36 382.99L727.65 383.00L730.94 383.01L734.23 383.02L737.52 383.02L740.80 383.03L744.09 383.04L747.38 383.05L750.67 383.06L753.95 383.06L757.24 383.07L760.53 383.08L763.82 383.09L767.11 383.10L770.39 383.11L773.68 383.11L776.97 383.12L780.26 383.13L783.55 383.14L786.83 383.15L790.12 383.15L793.41 383.16L796.70 383.17L799.98 383.18L803.27 383.19L806.56 383.20L809.85 383.20L813.14 383.21L816.42 383.22L819.71 383.23L823.00 383.24L826.29 383.24C827.60 383.25 828.26 383.31 829.58 383.25C830.89 383.19 831.72 383.47 832.86 382.93C834.35 382.23 834.84 381.26 836.15 380.15C837.47 379.04 838.07 378.41 839.44 377.37C840.70 376.42 841.34 375.92 842.73 375.18C843.97 374.51 844.70 374.39 846.02 373.86C847.33 373.33 847.99 373.07 849.30 372.54C850.62 372.01 851.28 371.75 852.59 371.23C853.91 370.70 854.56 370.44 855.88 369.92C857.19 369.40 857.97 369.33 859.17 368.61C860.60 367.75 861.13 367.01 862.45 365.95C863.76 364.91 864.38 364.33 865.74 363.36C867.01 362.45 867.82 361.05 869.03 361.26C870.45 361.50 870.85 364.08 872.32 364.47C873.48 364.77 874.25 363.45 875.61 362.97C876.88 362.51 877.56 362.33 878.89 362.12C880.19 361.92 880.87 362.00 882.18 361.92C883.50 361.85 884.15 361.81 885.47 361.73C886.78 361.65 887.44 361.61 888.76 361.53C890.07 361.45 890.74 361.27 892.05 361.33C893.37 361.40 894.03 361.62 895.33 361.88C896.66 362.13 897.30 362.56 898.62 362.60C899.93 362.64 900.59 362.30 901.91 362.10C903.22 361.89 903.88 361.79 905.20 361.59C906.51 361.39 907.16 361.21 908.48 361.09C909.79 360.97 910.46 360.99 911.77 360.99C913.09 360.98 913.75 361.03 915.06 361.06C916.38 361.09 917.03 361.10 918.35 361.13C919.66 361.16 920.32 361.25 921.64 361.21C922.95 361.16 923.64 361.19 924.92 360.92C926.27 360.64 926.91 359.77 928.21 359.81C929.54 359.85 930.14 360.81 931.50 361.12C932.77 361.42 933.47 361.27 934.79 361.33C936.10 361.39 936.76 361.38 938.08 361.41C939.39 361.45 940.05 361.46 941.36 361.49C942.68 361.53 943.34 361.54 944.65 361.58L944.65 385.50L63.50 385.50Z" fill="rgba(255,10,13,0.3)" stroke="none"/>

<path d="M63.50 363.66C64.82 363.54 65.47 363.47 66.79 363.34C68.10 363.21 68.76 363.04 70.08 363.02C71.39 363.01 72.05 363.17 73.36 363.26C74.68 363.36 75.34 363.41 76.65 363.50C77.97 363.60 78.62 363.65 79.94 363.74C81.25 363.84 81.91 364.00 83.23 363.99C84.54 363.97 85.20 363.79 86.52 363.66C87.83 363.54 88.48 363.41 89.80 363.34C91.12 363.28 92.09 362.71 93.09 363.34C94.72 364.37 94.98 365.92 96.38 367.52C97.61 368.94 98.14 369.92 99.67 370.89C100.77 371.59 101.64 371.37 102.95 371.69C104.27 372.01 104.91 372.26 106.24 372.50C107.54 372.72 108.21 372.73 109.53 372.85C110.84 372.97 111.50 373.00 112.82 373.09C114.13 373.19 114.81 373.12 116.11 373.34C117.44 373.56 118.12 373.73 119.39 374.18C120.75 374.64 121.32 375.19 122.68 375.61C123.95 376.01 124.64 376.10 125.97 376.24C127.27 376.38 127.94 376.29 129.26 376.32C130.57 376.36 131.23 376.37 132.55 376.41C133.86 376.44 134.52 376.46 135.83 376.49C137.15 376.53 137.81 376.54 139.12 376.58C140.44 376.61 141.15 376.37 142.41 376.66C143.78 376.98 144.39 377.51 145.70 378.11C147.02 378.73 147.60 379.34 148.98 379.72C150.23 380.06 150.96 379.96 152.27 379.92C153.59 379.88 154.24 379.60 155.56 379.52C156.87 379.44 157.56 379.34 158.85 379.53C160.19 379.74 160.79 380.35 162.14 380.52C163.42 380.69 164.11 380.43 165.42 380.37C166.74 380.31 167.40 380.28 168.71 380.22C170.03 380.16 170.68 380.13 172.00 380.07C173.32 380.01 173.97 379.92 175.29 379.93C176.60 379.93 177.26 379.99 178.58 380.08C179.89 380.18 180.55 380.32 181.86 380.38C183.18 380.43 183.84 380.43 185.15 380.35C186.47 380.28 187.12 380.15 188.44 380.01C189.75 379.88 190.41 379.77 191.73 379.67C193.04 379.57 193.71 379.43 195.02 379.50C196.34 379.57 196.99 379.81 198.30 380.01C199.62 380.22 200.27 380.49 201.59 380.52C202.90 380.55 203.56 380.31 204.88 380.17C206.19 380.02 206.85 379.90 208.17 379.81C209.48 379.72 210.15 379.63 211.45 379.71C212.78 379.79 213.42 380.10 214.74 380.21C216.05 380.32 216.72 380.27 218.03 380.24C219.35 380.21 220.00 380.14 221.32 380.07C222.63 380.00 223.29 379.96 224.61 379.89C225.92 379.82 226.58 379.71 227.89 379.72C229.21 379.73 229.87 379.86 231.18 379.96C232.50 380.06 233.16 380.22 234.47 380.20C235.79 380.18 236.45 380.02 237.76 379.84C239.08 379.67 239.76 379.66 241.05 379.32C242.39 378.96 243.50 379.13 244.33 378.11C246.13 375.95 246.96 374.27 247.62 371.37C249.59 362.71 249.30 351.26 250.91 349.21C251.93 347.92 252.94 357.49 254.20 363.02C255.57 369.05 255.71 375.87 257.48 378.11C258.34 379.21 260.18 374.28 260.77 371.37C262.81 361.31 262.37 348.65 264.06 345.68C265.00 344.02 266.18 354.13 267.35 359.81C268.82 366.97 268.41 371.50 270.64 377.79C271.04 378.95 272.65 378.59 273.92 378.44C275.29 378.27 275.85 377.39 277.21 376.99C278.48 376.62 279.18 376.67 280.50 376.51C281.81 376.35 282.48 376.12 283.79 376.19C285.11 376.25 285.78 376.89 287.08 376.83C288.41 376.77 289.77 376.97 290.36 375.87C292.40 372.09 292.31 369.12 293.65 364.63C294.94 360.32 295.96 352.68 296.94 353.87C298.59 355.89 298.20 365.44 300.23 372.66C300.83 374.81 301.85 376.13 303.52 377.31C304.48 377.99 305.49 377.41 306.80 377.31C308.13 377.21 308.87 377.28 310.09 376.83C311.50 376.32 312.69 376.18 313.38 374.90C315.32 371.30 315.70 368.82 316.67 364.63C318.33 357.46 318.86 345.25 319.95 346.49C321.49 348.21 321.11 362.11 323.24 372.01C323.74 374.31 324.84 375.63 326.53 376.99C327.47 377.75 328.50 377.25 329.82 377.31C331.13 377.38 331.83 377.53 333.11 377.31C334.46 377.08 335.66 377.25 336.39 376.19C338.29 373.46 338.43 371.20 339.68 367.84C341.06 364.14 341.93 357.66 342.97 358.53C344.56 359.85 344.26 367.75 346.26 373.30C346.89 375.07 347.99 376.11 349.55 376.83C350.62 377.33 351.53 376.28 352.83 376.35C354.16 376.41 354.91 377.42 356.12 377.15C357.54 376.84 359.12 376.41 359.41 374.90C361.75 362.67 361.39 342.73 362.70 342.79C364.02 342.86 364.20 370.52 365.98 375.22C366.83 377.45 367.10 365.11 369.27 360.13C369.73 359.07 372.14 359.05 372.56 360.13C374.77 365.85 373.82 370.68 375.85 377.15C376.45 379.09 377.94 381.40 379.14 381.17C380.57 380.88 381.94 378.28 382.42 375.87C384.58 365.05 384.49 347.26 385.71 348.09C387.12 349.06 386.61 368.53 389.00 380.36C389.24 381.57 390.97 380.65 392.29 380.68C393.60 380.72 394.58 381.20 395.58 380.52C397.21 379.40 398.25 378.23 398.86 376.19C400.88 369.43 400.91 358.10 402.15 358.53C403.54 359.00 403.23 371.09 405.44 378.44C405.86 379.82 407.32 380.05 408.73 380.36C409.95 380.63 410.70 379.88 412.02 379.88C413.33 379.88 414.29 380.93 415.30 380.36C416.92 379.45 417.99 378.18 418.59 376.19C420.62 369.45 420.66 357.99 421.88 358.53C423.29 359.15 422.93 371.54 425.17 379.08C425.56 380.40 427.08 380.45 428.45 380.68C429.71 380.90 430.43 380.39 431.74 380.20C433.06 380.01 434.92 381.00 435.03 379.72C437.55 349.98 436.65 310.97 438.32 302.65C439.28 297.86 440.02 329.27 441.61 346.97C442.65 358.55 443.90 378.69 444.89 375.87C446.53 371.24 446.81 329.15 448.18 328.34C449.44 327.60 449.16 354.88 451.47 372.01C451.79 374.40 454.50 379.15 454.76 377.15C457.13 358.73 455.56 342.19 458.05 320.96C458.19 319.72 461.19 319.72 461.33 320.96C463.82 342.32 462.14 356.23 464.62 377.47C464.77 378.71 466.64 377.46 467.91 377.15C469.27 376.82 469.85 376.26 471.20 375.87C472.48 375.49 474.33 376.50 474.48 375.22C476.96 354.66 475.71 342.75 477.77 321.28C478.34 315.39 479.56 312.56 481.06 306.83C482.19 302.54 483.67 294.06 484.35 296.23C486.30 302.41 486.67 331.09 487.64 327.70C489.30 321.84 488.94 294.87 490.92 273.11C491.57 265.97 493.24 253.55 494.21 255.45C495.87 258.69 496.48 273.73 497.50 285.96C499.11 305.20 499.08 314.89 500.79 334.12C501.71 344.44 502.46 349.58 504.08 359.81C505.10 366.28 505.17 370.52 507.36 375.87C507.80 376.94 509.39 376.13 510.65 375.87C512.02 375.58 512.62 375.05 513.94 374.50C515.25 373.96 515.88 373.58 517.23 373.14C518.51 372.71 519.20 372.66 520.52 372.33C521.83 372.01 522.47 371.74 523.80 371.53C525.10 371.33 525.78 371.40 527.09 371.31C528.41 371.22 529.06 371.17 530.38 371.08C531.69 370.99 532.35 370.95 533.67 370.86C534.98 370.77 535.64 370.72 536.95 370.63C538.27 370.54 538.93 370.49 540.24 370.41C541.56 370.32 542.22 370.29 543.53 370.21C544.85 370.13 545.50 370.09 546.82 370.01C548.13 369.93 548.79 369.89 550.11 369.81C551.42 369.73 552.09 369.77 553.39 369.61C554.72 369.43 555.48 369.49 556.68 368.96C558.11 368.33 558.53 367.21 559.97 366.71C561.16 366.31 561.94 366.71 563.26 366.71L566.55 366.71L569.83 366.71L573.12 366.71L576.41 366.71L579.70 366.71L582.98 366.71L586.27 366.71C587.59 366.71 588.25 366.68 589.56 366.71C590.88 366.75 591.53 366.81 592.85 366.88C594.16 366.94 594.82 366.94 596.14 367.04C597.45 367.13 598.11 367.23 599.42 367.36C600.74 367.49 601.40 367.55 602.71 367.68C604.03 367.80 604.68 367.93 606.00 367.98C607.31 368.03 607.98 368.06 609.29 367.95C610.61 367.83 611.25 367.57 612.58 367.41C613.88 367.26 614.55 367.13 615.86 367.17C617.18 367.21 617.84 367.43 619.15 367.61C620.47 367.78 621.12 367.87 622.44 368.04C623.75 368.22 624.43 368.58 625.73 368.48C627.06 368.37 627.68 367.59 629.02 367.52C630.31 367.45 630.99 367.88 632.30 368.12C633.62 368.37 634.28 368.49 635.59 368.73C636.91 368.97 637.56 369.09 638.88 369.34C640.19 369.58 640.84 369.79 642.17 369.94C643.47 370.09 644.14 370.12 645.45 370.08C646.77 370.05 647.43 369.89 648.74 369.76C650.06 369.63 650.72 369.56 652.03 369.43C653.35 369.30 654.00 369.23 655.32 369.10C656.63 368.97 657.29 368.89 658.61 368.78C659.92 368.66 660.58 368.49 661.89 368.52C663.21 368.56 663.87 368.78 665.18 368.95C666.50 369.11 667.15 369.20 668.47 369.37C669.78 369.54 670.44 369.70 671.76 369.79C673.07 369.89 673.75 369.99 675.05 369.85C676.38 369.69 677.02 369.04 678.33 369.04C679.65 369.05 680.35 369.41 681.62 369.86C682.98 370.34 683.59 371.37 684.91 371.37C686.22 371.38 686.88 369.88 688.20 369.89C689.51 369.89 690.28 370.61 691.48 371.40C692.92 372.33 693.29 373.46 694.77 374.19C695.92 374.74 696.74 374.56 698.06 374.61C699.37 374.65 700.03 374.50 701.35 374.43C702.66 374.36 703.32 374.28 704.64 374.26C705.95 374.25 706.61 374.32 707.92 374.36C709.24 374.40 709.90 374.42 711.21 374.46C712.53 374.50 713.18 374.52 714.50 374.56C715.82 374.60 716.47 374.62 717.79 374.65C719.10 374.69 719.76 374.76 721.08 374.71C722.39 374.67 724.08 375.61 724.36 374.42C726.71 364.51 725.36 355.64 727.65 346.97C727.99 345.67 729.56 348.59 730.94 349.49C732.19 350.30 733.17 350.25 734.23 351.26C735.80 352.75 736.88 353.64 737.52 355.72C739.52 362.34 738.60 366.92 740.80 373.01C741.23 374.20 742.78 373.92 744.09 373.92C745.41 373.92 746.06 373.38 747.38 373.01C748.69 372.65 749.33 372.29 750.67 372.10C751.96 371.93 752.64 372.09 753.95 372.11C755.27 372.14 755.93 372.18 757.24 372.22C758.56 372.27 759.23 372.47 760.53 372.33C761.86 372.19 762.48 371.67 763.82 371.53C765.11 371.40 765.79 371.59 767.11 371.67C768.42 371.76 769.08 372.00 770.39 371.97C771.71 371.93 772.37 371.69 773.68 371.51C775.00 371.33 775.71 370.86 776.97 371.05C778.34 371.26 778.88 372.21 780.26 372.51C781.51 372.79 782.23 372.54 783.55 372.51C784.86 372.47 785.52 372.41 786.83 372.34C788.15 372.28 788.81 372.24 790.12 372.18C791.44 372.11 792.10 371.99 793.41 372.01C794.73 372.04 795.38 372.19 796.70 372.31C798.01 372.43 798.67 372.49 799.98 372.60C801.30 372.72 801.96 372.80 803.27 372.90C804.59 373.00 805.24 373.09 806.56 373.12C807.87 373.15 808.53 373.07 809.85 373.03C811.16 372.99 811.82 372.98 813.14 372.94C814.45 372.91 815.11 372.89 816.42 372.85C817.74 372.82 818.40 372.80 819.71 372.76C821.03 372.73 821.68 372.71 823.00 372.67C824.32 372.63 824.97 372.61 826.29 372.56C827.60 372.51 828.26 372.49 829.58 372.44C830.89 372.39 831.55 372.37 832.86 372.32C834.18 372.28 834.84 372.27 836.15 372.23C837.47 372.19 838.12 372.17 839.44 372.13C840.75 372.09 841.41 372.07 842.73 372.03C844.04 371.99 844.70 371.99 846.02 371.93C847.33 371.88 847.99 371.89 849.30 371.75C850.63 371.61 851.32 371.58 852.59 371.23C853.95 370.85 854.56 370.44 855.88 369.92C857.19 369.40 857.97 369.33 859.17 368.61C860.60 367.75 861.13 367.01 862.45 365.95C863.76 364.91 864.38 364.33 865.74 363.36C867.01 362.45 867.82 361.05 869.03 361.26C870.45 361.50 870.85 364.08 872.32 364.47C873.48 364.77 874.25 363.45 875.61 362.97C876.88 362.51 877.56 362.33 878.89 362.12C880.19 361.92 880.87 362.00 882.18 361.92C883.50 361.85 884.15 361.81 885.47 361.73C886.78 361.65 887.44 361.61 888.76 361.53C890.07 361.45 890.74 361.27 892.05 361.33C893.37 361.40 894.03 361.62 895.33 361.88C896.66 362.13 897.30 362.56 898.62 362.60C899.93 362.64 900.59 362.30 901.91 362.10C903.22 361.89 903.88 361.79 905.20 361.59C906.51 361.39 907.16 361.21 908.48 361.09C909.79 360.97 910.46 360.99 911.77 360.99C913.09 360.98 913.75 361.03 915.06 361.06C916.38 361.09 917.03 361.10 918.35 361.13C919.66 361.16 920.32 361.25 921.64 361.21C922.95 361.16 923.64 361.19 924.92 360.92C926.27 360.64 926.91 359.77 928.21 359.81C929.54 359.85 930.14 360.81 931.50 361.12C932.77 361.42 933.47 361.27 934.79 361.33C936.10 361.39 936.76 361.38 938.08 361.41C939.39 361.45 940.05 361.46 941.36 361.49C942.68 361.53 943.34 361.54 944.65 361.58" fill="none" stroke="rgba(142,150,0,0.64)" stroke-width="1.7" stroke-linejoin="miter"/>

<path d="M63.50 327.12L66.79 327.12L70.08 327.12L73.36 327.12L76.65 327.12L79.94 327.12L83.23 327.12L86.52 327.12L89.80 327.12L93.09 327.12L96.38 327.12L99.67 327.12L102.95 327.12L106.24 327.12L109.53 327.12L112.82 327.12L116.11 327.12L119.39 327.12L122.68 327.12L125.97 327.12L129.26 327.12L132.55 327.12L135.83 327.12L139.12 327.12L142.41 327.12L145.70 327.12L148.98 327.12L152.27 327.12L155.56 327.12L158.85 327.12L162.14 327.12L165.42 327.12L168.71 327.12L172.00 327.12L175.29 327.12L178.58 327.12L181.86 327.12L185.15 327.12L188.44 327.12L191.73 327.12L195.02 327.12L198.30 327.12L201.59 327.12L204.88 327.12L208.17 327.12L211.45 327.12L214.74 327.12L218.03 327.12L221.32 327.12L224.61 327.12L227.89 327.12L231.18 327.12L234.47 327.12L237.76 327.12L241.05 327.12L244.33 327.12L247.62 327.12L250.91 327.12L254.20 327.12L257.48 327.12L260.77 327.12L264.06 327.12L267.35 327.12L270.64 327.12L273.92 327.12L277.21 327.12L280.50 327.12L283.79 327.12L287.08 327.12L290.36 327.12L293.65 327.12L296.94 327.12L300.23 327.12L303.52 327.12L306.80 327.12L310.09 327.12L313.38 327.12L316.67 327.12L319.95 327.12L323.24 327.12L326.53 327.12L329.82 327.12L333.11 327.12L336.39 327.12L339.68 327.12L342.97 327.12L346.26 327.12L349.55 327.12L352.83 327.12L356.12 327.12L359.41 327.12L362.70 327.12L365.98 327.12L369.27 327.12L372.56 327.12L375.85 327.12L379.14 327.12L382.42 327.12L385.71 327.12L389.00 327.12L392.29 327.12L395.58 327.12L398.86 327.12L402.15 327.12L405.44 327.12L408.73 327.12L412.02 327.12L415.30 327.12L418.59 327.12L421.88 327.12L425.17 327.12L428.45 327.12L431.74 327.12L435.03 327.12L438.32 327.12L441.61 327.12C442.92 327.12 443.71 327.54 444.89 327.12C446.34 326.60 446.98 325.85 448.18 324.78C449.61 323.51 449.91 322.11 451.47 321.28C452.54 320.71 453.44 321.28 454.76 321.28L458.05 321.28L461.33 321.28L464.62 321.28C465.94 321.28 466.75 321.73 467.91 321.28C469.38 320.71 469.88 319.76 471.20 318.75C472.51 317.74 473.17 317.23 474.48 316.22C475.80 315.21 476.38 314.58 477.77 313.69C479.01 312.90 479.75 312.69 481.06 312.03C482.38 311.37 483.03 311.03 484.35 310.37C485.66 309.71 486.32 309.38 487.64 308.71C488.95 308.05 489.61 307.72 490.92 307.05C492.24 306.38 492.90 306.05 494.21 305.37C495.53 304.69 496.18 304.35 497.50 303.67C498.82 302.98 499.47 302.64 500.79 301.96C502.10 301.28 503.06 301.27 504.08 300.26C505.69 298.66 506.05 297.36 507.36 295.42C508.68 293.49 509.34 292.52 510.65 290.59C511.97 288.66 512.60 287.68 513.94 285.75C515.23 283.89 515.91 282.98 517.23 281.13C518.54 279.30 519.20 278.39 520.52 276.56C521.83 274.73 522.43 273.77 523.80 271.98C525.06 270.36 525.76 269.60 527.09 268.03C528.39 266.50 529.06 265.75 530.38 264.24C531.69 262.72 532.47 262.05 533.67 260.44C535.10 258.52 535.67 257.45 536.95 255.42C538.30 253.30 538.91 252.21 540.24 250.09C541.54 248.01 542.20 246.97 543.53 244.91C544.83 242.89 545.50 241.90 546.82 239.89C548.13 237.88 548.73 236.84 550.11 234.87C551.36 233.08 552.21 232.33 553.39 230.49C554.84 228.24 555.37 226.99 556.68 224.65C558.00 222.32 558.67 221.16 559.97 218.81C561.30 216.43 562.00 215.25 563.26 212.83C564.63 210.17 564.78 208.34 566.55 206.10C567.41 205.01 568.45 204.85 569.83 204.51C571.08 204.21 571.81 204.51 573.12 204.51L576.41 204.51L579.70 204.51L582.98 204.51L586.27 204.51C587.59 204.51 589.34 205.71 589.56 204.51C591.97 191.70 591.05 183.42 592.85 169.48C593.68 162.99 593.98 159.17 596.14 153.42C596.61 152.16 598.05 152.27 599.42 151.96C600.68 151.69 601.40 151.96 602.71 151.96L606.00 151.96L609.29 151.96C610.60 151.96 611.39 151.56 612.58 151.96C614.02 152.46 614.44 153.58 615.86 154.21C617.07 154.74 617.82 154.75 619.15 154.88C620.45 155.02 621.12 154.88 622.44 154.88L625.73 154.88L629.02 154.88L632.30 154.88L635.59 154.88L638.88 154.88L642.17 154.88L645.45 154.88L648.74 154.88L652.03 154.88L655.32 154.88L658.61 154.88L661.89 154.88L665.18 154.88L668.47 154.88L671.76 154.88L675.05 154.88L678.33 154.88L681.62 154.88L684.91 154.88L688.20 154.88L691.48 154.88L694.77 154.88L698.06 154.88L701.35 154.88L704.64 154.88L707.92 154.88L711.21 154.88L714.50 154.88L717.79 154.88L721.08 154.88L724.36 154.88L727.65 154.88L730.94 154.88L734.23 154.88L737.52 154.88L740.80 154.88L744.09 154.88L747.38 154.88L750.67 154.88L753.95 154.88L757.24 154.88L760.53 154.88L763.82 154.88L767.11 154.88L770.39 154.88L773.68 154.88L776.97 154.88L780.26 154.88L783.55 154.88L786.83 154.88L790.12 154.88L793.41 154.88L796.70 154.88L799.98 154.88L803.27 154.88L806.56 154.88L809.85 154.88L813.14 154.88L816.42 154.88L819.71 154.88L823.00 154.88L826.29 154.88L829.58 154.88L832.86 154.88L836.15 154.88L839.44 154.88L842.73 154.88L846.02 154.88L849.30 154.88L852.59 154.88L855.88 154.88L859.17 154.88L862.45 154.88L865.74 154.88L869.03 154.88L872.32 154.88L875.61 154.88L878.89 154.88L882.18 154.88L885.47 154.88L888.76 154.88L892.05 154.88L895.33 154.88L898.62 154.88L901.91 154.88L905.20 154.88L908.48 154.88L911.77 154.88L915.06 154.88L918.35 154.88L921.64 154.88L924.92 154.88L928.21 154.88L931.50 154.88L934.79 154.88L938.08 154.88L941.36 154.88L944.65 154.88" fill="none" stroke="rgba(50,40,215,0.62)" stroke-width="1.8" stroke-dasharray="8.9 4.4" stroke-linejoin="miter"/>

<path d="M63.50 385.50L66.79 385.50L70.08 385.50L73.36 385.50L76.65 385.50L79.94 385.50L83.23 385.50L86.52 385.50L89.80 385.50L93.09 385.50L96.38 385.50L99.67 385.50L102.95 385.50L106.24 385.50L109.53 385.50L112.82 385.50L116.11 385.50L119.39 385.50L122.68 385.50L125.97 385.50L129.26 385.50L132.55 385.50L135.83 385.50L139.12 385.50L142.41 385.50L145.70 385.50L148.98 385.50L152.27 385.50L155.56 385.50L158.85 385.50L162.14 385.50L165.42 385.50L168.71 385.50L172.00 385.50L175.29 385.50L178.58 385.50L181.86 385.50L185.15 385.50L188.44 385.50L191.73 385.50L195.02 385.50L198.30 385.50L201.59 385.50L204.88 385.50L208.17 385.50L211.45 385.50L214.74 385.50L218.03 385.50L221.32 385.50L224.61 385.50L227.89 385.50L231.18 385.50L234.47 385.50L237.76 385.50L241.05 385.50L244.33 385.50L247.62 385.50L250.91 385.50L254.20 385.50L257.48 385.50L260.77 385.50L264.06 385.50L267.35 385.50L270.64 385.50L273.92 385.50L277.21 385.50L280.50 385.50L283.79 385.50L287.08 385.50L290.36 385.50L293.65 385.50L296.94 385.50L300.23 385.50L303.52 385.50L306.80 385.50L310.09 385.50L313.38 385.50L316.67 385.50L319.95 385.50L323.24 385.50L326.53 385.50L329.82 385.50L333.11 385.50L336.39 385.50L339.68 385.50L342.97 385.50L346.26 385.50L349.55 385.50L352.83 385.50L356.12 385.50L359.41 385.50L362.70 385.50L365.98 385.50L369.27 385.50L372.56 385.50L375.85 385.50L379.14 385.50L382.42 385.50L385.71 385.50L389.00 385.50L392.29 385.50L395.58 385.50L398.86 385.50L402.15 385.50L405.44 385.50L408.73 385.50L412.02 385.50L415.30 385.50L418.59 385.50L421.88 385.50L425.17 385.50L428.45 385.50L431.74 385.50L435.03 385.50L438.32 385.50L441.61 385.50L444.89 385.50C446.70 383.74 448.01 381.94 448.18 379.08C450.64 339.30 449.16 309.35 451.47 278.89C451.79 274.67 454.42 286.85 454.76 292.38C457.05 329.49 455.50 349.52 458.05 385.50L461.33 385.50L464.62 385.50L467.91 385.50C470.46 341.82 468.92 317.96 471.20 273.11C471.55 266.20 473.51 254.28 474.48 256.09C476.14 259.16 476.41 273.63 477.77 285.31C479.04 296.24 478.93 301.97 481.06 312.61C481.56 315.07 483.65 319.33 484.35 318.07C486.28 314.57 486.88 297.68 487.64 300.73C489.52 308.34 488.87 327.25 490.92 344.72C491.50 349.60 493.65 359.46 494.21 356.60C496.28 345.98 496.05 329.23 497.50 311.00C498.68 296.22 499.35 288.83 500.79 274.07C501.98 261.86 502.52 255.74 504.08 243.57C505.15 235.12 505.40 230.74 507.36 222.54C508.03 219.76 508.91 218.24 510.65 216.11C511.54 215.03 512.62 215.15 513.94 214.51C515.25 213.87 515.91 213.54 517.23 212.90C518.54 212.26 519.20 211.94 520.52 211.30C521.83 210.66 522.69 210.59 523.80 209.69C525.32 208.47 525.78 207.47 527.09 205.99C528.41 204.50 528.96 203.66 530.38 202.28C531.59 201.10 532.33 200.64 533.67 199.60C534.96 198.61 535.90 198.40 536.95 197.20C538.53 195.39 538.56 193.65 540.24 192.07C541.20 191.18 542.54 191.87 543.53 191.00C545.17 189.58 545.27 187.97 546.82 186.36C547.90 185.24 549.05 185.31 550.11 184.17C551.68 182.49 551.97 181.17 553.39 179.31C554.60 177.73 555.10 176.59 556.68 175.57C557.74 174.89 558.66 175.03 559.97 175.05C561.29 175.07 561.98 175.29 563.26 175.67C564.61 176.07 565.19 176.61 566.55 177.02C567.82 177.40 568.51 177.46 569.83 177.66C571.14 177.85 571.80 177.92 573.12 177.99C574.43 178.07 575.09 178.06 576.41 178.03C577.72 178.01 578.38 177.94 579.70 177.88C581.01 177.82 581.67 177.79 582.98 177.73C584.30 177.67 584.96 177.64 586.27 177.57C587.59 177.51 588.25 177.51 589.56 177.42C590.88 177.32 591.53 177.23 592.85 177.10C594.16 176.97 596.05 175.50 596.14 176.78C598.68 216.48 598.13 238.43 599.42 279.53C600.76 321.92 600.16 344.39 602.71 385.50L606.00 385.50L609.29 385.50L612.58 385.50L615.86 385.50L619.15 385.50L622.44 385.50L625.73 385.50L629.02 385.50L632.30 385.50L635.59 385.50L638.88 385.50L642.17 385.50L645.45 385.50L648.74 385.50L652.03 385.50L655.32 385.50L658.61 385.50L661.89 385.50L665.18 385.50L668.47 385.50L671.76 385.50L675.05 385.50L678.33 385.50L681.62 385.50L684.91 385.50L688.20 385.50L691.48 385.50L694.77 385.50L698.06 385.50L701.35 385.50L704.64 385.50L707.92 385.50L711.21 385.50L714.50 385.50L717.79 385.50L721.08 385.50L724.36 385.50L727.65 385.50L730.94 385.50L734.23 385.50L737.52 385.50L740.80 385.50L744.09 385.50L747.38 385.50L750.67 385.50L753.95 385.50L757.24 385.50L760.53 385.50L763.82 385.50L767.11 385.50L770.39 385.50L773.68 385.50L776.97 385.50L780.26 385.50L783.55 385.50L786.83 385.50L790.12 385.50L793.41 385.50L796.70 385.50L799.98 385.50L803.27 385.50L806.56 385.50L809.85 385.50L813.14 385.50L816.42 385.50L819.71 385.50L823.00 385.50L826.29 385.50L829.58 385.50L832.86 385.50L836.15 385.50L839.44 385.50L842.73 385.50L846.02 385.50L849.30 385.50L852.59 385.50L855.88 385.50L859.17 385.50L862.45 385.50L865.74 385.50L869.03 385.50L872.32 385.50L875.61 385.50L878.89 385.50L882.18 385.50L885.47 385.50L888.76 385.50L892.05 385.50L895.33 385.50L898.62 385.50L901.91 385.50L905.20 385.50L908.48 385.50L911.77 385.50L915.06 385.50L918.35 385.50L921.64 385.50L924.92 385.50L928.21 385.50L931.50 385.50L934.79 385.50L938.08 385.50L941.36 385.50L944.65 385.50" fill="none" stroke="rgba(0,0,255,0.7)" stroke-width="0.9" stroke-linejoin="miter"/>

<path d="M63.50 385.50L66.79 385.50L70.08 385.50L73.36 385.50L76.65 385.50L79.94 385.50L83.23 385.50L86.52 385.50L89.80 385.50L93.09 385.50L96.38 385.50L99.67 385.50L102.95 385.50L106.24 385.50L109.53 385.50L112.82 385.50L116.11 385.50L119.39 385.50L122.68 385.50L125.97 385.50L129.26 385.50L132.55 385.50L135.83 385.50L139.12 385.50L142.41 385.50L145.70 385.50L148.98 385.50L152.27 385.50L155.56 385.50L158.85 385.50L162.14 385.50L165.42 385.50L168.71 385.50L172.00 385.50L175.29 385.50L178.58 385.50L181.86 385.50L185.15 385.50L188.44 385.50L191.73 385.50L195.02 385.50L198.30 385.50L201.59 385.50L204.88 385.50L208.17 385.50L211.45 385.50L214.74 385.50L218.03 385.50L221.32 385.50L224.61 385.50L227.89 385.50L231.18 385.50L234.47 385.50L237.76 385.50L241.05 385.50L244.33 385.50L247.62 385.50L250.91 385.50L254.20 385.50L257.48 385.50L260.77 385.50L264.06 385.50L267.35 385.50L270.64 385.50L273.92 385.50L277.21 385.50L280.50 385.50L283.79 385.50L287.08 385.50L290.36 385.50L293.65 385.50L296.94 385.50L300.23 385.50L303.52 385.50L306.80 385.50L310.09 385.50L313.38 385.50L316.67 385.50L319.95 385.50L323.24 385.50L326.53 385.50L329.82 385.50L333.11 385.50L336.39 385.50L339.68 385.50L342.97 385.50L346.26 385.50L349.55 385.50L352.83 385.50L356.12 385.50L359.41 385.50L362.70 385.50L365.98 385.50L369.27 385.50L372.56 385.50L375.85 385.50L379.14 385.50L382.42 385.50L385.71 385.50L389.00 385.50L392.29 385.50L395.58 385.50L398.86 385.50L402.15 385.50L405.44 385.50L408.73 385.50L412.02 385.50L415.30 385.50L418.59 385.50L421.88 385.50L425.17 385.50L428.45 385.50L431.74 385.50L435.03 385.50L438.32 385.50L441.61 385.50L444.89 385.50C446.70 383.74 448.01 381.94 448.18 379.08C450.64 339.30 449.16 309.35 451.47 278.89C451.79 274.67 454.42 286.85 454.76 292.38C457.05 329.49 455.50 349.52 458.05 385.50L461.33 385.50L464.62 385.50L467.91 385.50C470.46 341.82 468.92 317.96 471.20 273.11C471.55 266.20 473.51 254.28 474.48 256.09C476.14 259.16 476.41 273.63 477.77 285.31C479.04 296.24 478.93 301.97 481.06 312.61C481.56 315.07 483.65 319.33 484.35 318.07C486.28 314.57 486.88 297.68 487.64 300.73C489.52 308.34 488.87 327.25 490.92 344.72C491.50 349.60 493.65 359.46 494.21 356.60C496.28 345.98 496.05 329.23 497.50 311.00C498.68 296.22 499.35 288.83 500.79 274.07C501.98 261.86 502.52 255.74 504.08 243.57C505.15 235.12 505.40 230.74 507.36 222.54C508.03 219.76 508.91 218.24 510.65 216.11C511.54 215.03 512.62 215.15 513.94 214.51C515.25 213.87 515.91 213.54 517.23 212.90C518.54 212.26 519.20 211.94 520.52 211.30C521.83 210.66 522.69 210.59 523.80 209.69C525.32 208.47 525.78 207.47 527.09 205.99C528.41 204.50 528.96 203.66 530.38 202.28C531.59 201.10 532.33 200.64 533.67 199.60C534.96 198.61 535.90 198.40 536.95 197.20C538.53 195.39 538.56 193.65 540.24 192.07C541.20 191.18 542.54 191.87 543.53 191.00C545.17 189.58 545.27 187.97 546.82 186.36C547.90 185.24 549.05 185.31 550.11 184.17C551.68 182.49 551.97 181.17 553.39 179.31C554.60 177.73 555.10 176.59 556.68 175.57C557.74 174.89 558.66 175.03 559.97 175.05C561.29 175.07 561.98 175.29 563.26 175.67C564.61 176.07 565.19 176.61 566.55 177.02C567.82 177.40 568.51 177.46 569.83 177.66C571.14 177.85 571.80 177.92 573.12 177.99C574.43 178.07 575.09 178.06 576.41 178.03C577.72 178.01 578.38 177.94 579.70 177.88C581.01 177.82 581.67 177.79 582.98 177.73C584.30 177.67 584.96 177.64 586.27 177.57C587.59 177.51 588.25 177.51 589.56 177.42C590.88 177.32 591.53 177.23 592.85 177.10C594.16 176.97 596.05 175.50 596.14 176.78C598.68 216.48 598.13 238.43 599.42 279.53C600.76 321.92 600.16 344.39 602.71 385.50L606.00 385.50L609.29 385.50L612.58 385.50L615.86 385.50L619.15 385.50L622.44 385.50L625.73 385.50L629.02 385.50L632.30 385.50L635.59 385.50L638.88 385.50L642.17 385.50L645.45 385.50L648.74 385.50L652.03 385.50L655.32 385.50L658.61 385.50L661.89 385.50L665.18 385.50L668.47 385.50L671.76 385.50L675.05 385.50L678.33 385.50L681.62 385.50L684.91 385.50L688.20 385.50L691.48 385.50L694.77 385.50L698.06 385.50L701.35 385.50L704.64 385.50L707.92 385.50L711.21 385.50L714.50 385.50L717.79 385.50L721.08 385.50L724.36 385.50L727.65 385.50L730.94 385.50L734.23 385.50L737.52 385.50L740.80 385.50L744.09 385.50L747.38 385.50L750.67 385.50L753.95 385.50L757.24 385.50L760.53 385.50L763.82 385.50L767.11 385.50L770.39 385.50L773.68 385.50L776.97 385.50L780.26 385.50L783.55 385.50L786.83 385.50L790.12 385.50L793.41 385.50L796.70 385.50L799.98 385.50L803.27 385.50L806.56 385.50L809.85 385.50L813.14 385.50L816.42 385.50L819.71 385.50L823.00 385.50L826.29 385.50L829.58 385.50L832.86 385.50L836.15 385.50L839.44 385.50L842.73 385.50L846.02 385.50L849.30 385.50L852.59 385.50L855.88 385.50L859.17 385.50L862.45 385.50L865.74 385.50L869.03 385.50L872.32 385.50L875.61 385.50L878.89 385.50L882.18 385.50L885.47 385.50L888.76 385.50L892.05 385.50L895.33 385.50L898.62 385.50L901.91 385.50L905.20 385.50L908.48 385.50L911.77 385.50L915.06 385.50L918.35 385.50L921.64 385.50L924.92 385.50L928.21 385.50L931.50 385.50L934.79 385.50L938.08 385.50L941.36 385.50L944.65 385.50" fill="none" stroke="rgba(50,50,55,0.1)" stroke-width="1.8" stroke-linejoin="miter"/>

<path d="M63.50 385.50L66.79 385.50L70.08 385.50L73.36 385.50L76.65 385.50L79.94 385.50L83.23 385.50L86.52 385.50L89.80 385.50L93.09 385.50L96.38 385.50L99.67 385.50L102.95 385.50L106.24 385.50L109.53 385.50L112.82 385.50L116.11 385.50L119.39 385.50L122.68 385.50L125.97 385.50L129.26 385.50L132.55 385.50L135.83 385.50L139.12 385.50L142.41 385.50L145.70 385.50L148.98 385.50L152.27 385.50L155.56 385.50L158.85 385.50L162.14 385.50L165.42 385.50L168.71 385.50L172.00 385.50L175.29 385.50L178.58 385.50L181.86 385.50L185.15 385.50L188.44 385.50L191.73 385.50L195.02 385.50L198.30 385.50L201.59 385.50L204.88 385.50L208.17 385.50L211.45 385.50L214.74 385.50L218.03 385.50L221.32 385.50L224.61 385.50L227.89 385.50L231.18 385.50L234.47 385.50L237.76 385.50L241.05 385.50L244.33 385.50L247.62 385.50L250.91 385.50L254.20 385.50L257.48 385.50L260.77 385.50L264.06 385.50L267.35 385.50L270.64 385.50L273.92 385.50L277.21 385.50L280.50 385.50L283.79 385.50L287.08 385.50L290.36 385.50L293.65 385.50L296.94 385.50L300.23 385.50L303.52 385.50L306.80 385.50L310.09 385.50L313.38 385.50L316.67 385.50L319.95 385.50L323.24 385.50L326.53 385.50L329.82 385.50L333.11 385.50L336.39 385.50C337.72 385.40 338.38 385.28 339.68 385.02C341.01 384.75 341.65 384.50 342.97 384.16C344.28 383.82 344.94 383.65 346.26 383.31C347.57 382.96 348.27 382.91 349.55 382.45C350.90 381.96 351.52 381.55 352.83 380.95C354.15 380.35 354.81 380.05 356.12 379.45C357.44 378.84 358.14 378.63 359.41 377.94C360.77 377.21 361.39 376.72 362.70 375.89C364.02 375.06 364.67 374.63 365.98 373.78C367.30 372.94 367.97 372.54 369.27 371.67C370.60 370.80 371.26 370.35 372.56 369.43C373.89 368.48 374.53 367.97 375.85 366.99C377.16 366.01 377.86 365.57 379.14 364.55C380.49 363.48 381.11 362.88 382.42 361.75C383.74 360.62 384.40 360.05 385.71 358.92C387.03 357.78 387.66 357.18 389.00 356.08C390.29 355.03 390.97 354.55 392.29 353.53C393.60 352.52 394.26 352.02 395.58 351.02C396.89 350.01 397.53 349.48 398.86 348.50C400.16 347.55 400.83 347.11 402.15 346.19C403.46 345.28 404.12 344.82 405.44 343.91C406.75 343.01 407.40 342.55 408.73 341.67C410.03 340.81 410.70 340.40 412.02 339.55C413.33 338.70 413.99 338.27 415.30 337.42C416.62 336.57 417.37 336.27 418.59 335.30C420.00 334.18 420.79 333.62 421.88 332.20C423.42 330.19 424.82 329.23 425.17 326.74C427.45 310.22 426.13 301.11 428.45 284.67C428.76 282.54 430.43 282.05 431.74 280.31C433.06 278.56 433.69 277.67 435.03 275.94C436.32 274.27 436.95 273.41 438.32 271.80C439.58 270.30 440.29 269.61 441.61 268.16C442.92 266.73 443.57 266.01 444.89 264.58C446.20 263.18 446.87 262.49 448.18 261.09C449.50 259.69 450.15 258.99 451.47 257.59C452.79 256.19 453.43 255.47 454.76 254.09C456.06 252.73 456.72 252.06 458.05 250.73C459.35 249.43 460.02 248.80 461.33 247.52C462.65 246.23 463.30 245.58 464.62 244.31C465.93 243.04 466.59 242.42 467.91 241.17C469.22 239.91 469.89 239.30 471.20 238.03C472.52 236.75 473.17 236.09 474.48 234.80C475.80 233.50 476.43 232.82 477.77 231.54C479.06 230.32 479.73 229.72 481.06 228.54C482.36 227.38 483.03 226.83 484.35 225.69C485.66 224.55 486.29 223.94 487.64 222.84C488.92 221.81 489.59 221.33 490.92 220.36C492.22 219.40 492.90 218.96 494.21 218.02C495.53 217.09 496.22 216.66 497.50 215.69C498.85 214.67 499.49 214.12 500.79 213.04C502.12 211.94 502.73 211.33 504.08 210.25C505.36 209.21 506.09 208.79 507.36 207.73C508.72 206.60 509.53 206.13 510.65 204.78C512.16 202.96 512.41 201.60 513.94 199.80C515.04 198.50 515.90 198.12 517.23 197.02C518.53 195.93 519.16 195.36 520.52 194.33C521.79 193.36 522.64 193.13 523.80 192.04C525.27 190.65 525.77 189.70 527.09 188.15C528.40 186.63 528.95 185.77 530.38 184.37C531.58 183.18 532.44 182.86 533.67 181.69C535.07 180.35 535.65 179.54 536.95 178.09C538.28 176.60 538.82 175.73 540.24 174.34C541.45 173.15 542.22 172.72 543.53 171.63C544.85 170.52 545.52 169.96 546.82 168.82C548.15 167.66 548.89 167.15 550.11 165.88C551.52 164.39 552.19 163.57 553.39 161.90C554.82 159.92 555.43 158.84 556.68 156.73C558.06 154.40 558.29 152.83 559.97 150.80C560.92 149.65 562.32 149.94 563.26 148.78C564.95 146.66 565.23 145.06 566.55 142.58C567.86 140.10 568.35 138.75 569.83 136.38C570.98 134.56 572.07 133.97 573.12 132.10C574.70 129.28 574.54 126.66 576.41 124.65C577.17 123.83 578.54 124.49 579.70 125.03C581.17 125.71 581.51 127.08 582.98 127.68C584.14 128.14 585.16 127.17 586.27 127.68C587.79 128.37 588.26 129.47 589.56 130.70C590.89 131.95 591.32 133.11 592.85 133.88C593.95 134.43 594.84 134.12 596.14 133.99C597.47 133.85 598.09 133.32 599.42 133.20C600.72 133.08 601.43 133.13 602.71 133.38C604.06 133.65 604.71 133.97 606.00 134.49C607.34 135.04 608.01 136.12 609.29 136.04C610.64 135.94 611.47 135.08 612.58 134.05C614.10 132.63 614.70 129.62 615.86 129.91C617.33 130.28 617.69 133.49 619.15 135.71C620.32 137.48 621.23 138.14 622.44 139.88C623.86 141.92 624.53 142.97 625.73 145.15C627.16 147.76 627.68 149.17 629.02 151.84C630.31 154.44 630.84 155.81 632.30 158.31C633.47 160.33 634.02 161.47 635.59 163.13C636.65 164.24 637.59 164.35 638.88 165.24C640.22 166.17 640.90 166.64 642.17 167.68C643.53 168.79 644.49 169.17 645.45 170.61C647.12 173.11 647.26 174.86 648.74 177.53C649.89 179.60 650.39 180.88 652.03 182.47C653.02 183.43 653.95 183.61 655.32 183.91C656.58 184.18 657.39 183.55 658.61 183.91C660.02 184.31 660.85 184.75 661.89 185.81C663.48 187.41 663.61 188.92 665.18 190.55C666.24 191.65 667.12 191.85 668.47 192.62C669.75 193.34 670.71 194.73 671.76 194.28C673.34 193.60 673.73 191.58 675.05 189.78C676.36 187.98 677.92 183.70 678.33 185.29C680.55 193.91 680.70 203.27 681.62 215.31C683.33 237.82 683.73 273.97 684.91 271.67C686.36 268.84 686.54 209.77 688.20 202.47C689.17 198.21 690.17 242.83 691.48 242.77C692.81 242.70 693.05 207.24 694.77 202.15C695.68 199.47 697.46 214.79 698.06 223.34C700.09 252.17 698.97 266.96 701.35 295.59C701.60 298.56 703.44 299.58 704.64 302.33C706.07 305.62 706.67 307.32 707.92 310.68C709.30 314.38 710.91 323.06 711.21 319.99C713.54 296.34 712.71 254.96 714.50 243.89C715.34 238.71 716.51 279.81 717.79 279.37C719.14 278.91 718.94 251.31 721.08 241.64C721.57 239.43 723.23 246.40 724.36 249.67C725.86 253.97 725.78 258.39 727.65 260.59C728.41 261.47 729.42 258.26 730.94 257.38C732.05 256.73 732.91 257.01 734.23 256.76C735.54 256.51 736.24 256.51 737.52 256.14C738.87 255.75 739.57 255.53 740.80 254.86C742.20 254.10 742.76 252.62 744.09 252.58C745.39 252.54 746.63 253.36 747.38 254.65C749.26 257.89 749.55 260.13 750.67 263.89C752.18 269.01 752.38 271.74 753.95 276.84C755.01 280.29 755.81 281.93 757.24 285.25C758.44 288.03 759.01 289.47 760.53 292.08C761.64 293.99 762.50 294.76 763.82 296.55C765.13 298.34 765.79 299.23 767.11 301.02C768.42 302.81 769.06 303.71 770.39 305.49C771.69 307.21 772.36 308.06 773.68 309.77C774.99 311.45 775.65 312.29 776.97 313.97C778.28 315.65 778.94 316.49 780.26 318.17C781.57 319.85 782.24 320.68 783.55 322.36C784.87 324.08 785.52 324.96 786.83 326.69C788.15 328.42 788.81 329.30 790.12 331.04C791.44 332.78 792.09 333.65 793.41 335.39C794.72 337.13 795.28 338.09 796.70 339.74C797.91 341.15 798.67 341.73 799.98 343.05C801.30 344.37 801.96 345.04 803.27 346.36C804.59 347.68 805.25 348.35 806.56 349.67C807.88 350.99 808.53 351.66 809.85 352.98C811.16 354.29 811.77 354.98 813.14 356.24C814.40 357.40 815.11 357.91 816.42 359.02C817.74 360.13 818.40 360.69 819.71 361.80C821.03 362.92 821.68 363.47 823.00 364.58C824.32 365.70 824.97 366.25 826.29 367.37C827.60 368.48 828.26 369.04 829.58 370.15C830.89 371.26 831.52 371.84 832.86 372.90C834.15 373.92 834.84 374.38 836.15 375.37C837.47 376.35 838.11 376.87 839.44 377.83C840.74 378.78 841.38 379.27 842.73 380.16C844.01 381.00 844.69 381.36 846.02 382.14C847.32 382.91 847.95 383.34 849.30 384.03C850.58 384.68 851.22 385.19 852.59 385.50L855.88 385.50L859.17 385.50L862.45 385.50L865.74 385.50L869.03 385.50L872.32 385.50L875.61 385.50L878.89 385.50L882.18 385.50L885.47 385.50L888.76 385.50L892.05 385.50L895.33 385.50L898.62 385.50L901.91 385.50L905.20 385.50L908.48 385.50L911.77 385.50L915.06 385.50L918.35 385.50L921.64 385.50L924.92 385.50L928.21 385.50L931.50 385.50L934.79 385.50L938.08 385.50L941.36 385.50L944.65 385.50" fill="none" stroke="rgb(20,100,20)" stroke-width="1.1" stroke-linejoin="miter"/>

<path d="M63.50 385.50L66.79 385.50L70.08 385.50L73.36 385.50L76.65 385.50L79.94 385.50L83.23 385.50L86.52 385.50L89.80 385.50L93.09 385.50L96.38 385.50L99.67 385.50L102.95 385.50L106.24 385.50L109.53 385.50L112.82 385.50L116.11 385.50L119.39 385.50L122.68 385.50L125.97 385.50L129.26 385.50L132.55 385.50L135.83 385.50L139.12 385.50L142.41 385.50L145.70 385.50L148.98 385.50L152.27 385.50L155.56 385.50L158.85 385.50L162.14 385.50L165.42 385.50L168.71 385.50L172.00 385.50L175.29 385.50L178.58 385.50L181.86 385.50L185.15 385.50L188.44 385.50L191.73 385.50L195.02 385.50L198.30 385.50L201.59 385.50L204.88 385.50L208.17 385.50L211.45 385.50L214.74 385.50L218.03 385.50L221.32 385.50L224.61 385.50L227.89 385.50L231.18 385.50L234.47 385.50L237.76 385.50L241.05 385.50L244.33 385.50L247.62 385.50L250.91 385.50L254.20 385.50L257.48 385.50L260.77 385.50L264.06 385.50L267.35 385.50L270.64 385.50L273.92 385.50L277.21 385.50L280.50 385.50L283.79 385.50L287.08 385.50L290.36 385.50L293.65 385.50L296.94 385.50L300.23 385.50L303.52 385.50L306.80 385.50L310.09 385.50L313.38 385.50L316.67 385.50L319.95 385.50L323.24 385.50L326.53 385.50L329.82 385.50L333.11 385.50L336.39 385.50L339.68 385.50L342.97 385.50L346.26 385.50L349.55 385.50L352.83 385.50C354.58 384.02 354.50 381.87 356.12 379.93C357.13 378.72 358.56 376.92 359.41 377.62C361.19 379.10 361.60 385.50 362.70 385.37C364.23 384.55 364.27 375.67 365.98 374.11C366.90 373.28 367.58 378.27 369.27 379.38C370.21 379.99 371.95 379.52 372.56 378.42C374.58 374.82 373.96 371.58 375.85 367.63C376.59 366.09 377.63 365.40 379.14 364.71C380.26 364.20 382.00 363.57 382.42 364.64C384.63 370.18 384.65 382.56 385.71 381.23C387.28 379.27 386.72 365.69 389.00 356.40C389.35 354.99 391.01 355.32 392.29 354.50C393.64 353.63 394.22 352.27 395.58 352.18C396.85 352.09 398.35 352.70 398.86 354.03C400.99 359.60 401.07 370.54 402.15 369.42C403.70 367.83 403.31 355.77 405.44 347.26C405.94 345.26 407.17 344.49 408.73 343.14C409.80 342.20 410.79 342.31 412.02 341.53C413.42 340.64 413.94 339.06 415.30 338.96C416.57 338.86 418.05 339.66 418.59 341.04C420.68 346.34 420.88 357.08 421.88 355.64C423.51 353.29 424.20 341.22 425.17 331.55C426.83 315.02 426.15 306.35 428.45 290.13C428.78 287.85 430.13 286.89 431.74 285.31C432.76 284.32 434.79 282.44 435.03 283.71C437.42 296.19 436.97 319.34 438.32 319.67C439.60 319.99 439.72 298.96 441.61 285.31C442.35 279.95 443.53 272.35 444.89 272.15C446.16 271.96 446.25 279.83 448.18 284.35C448.88 285.99 450.15 286.28 451.47 287.56C452.78 288.85 453.29 289.70 454.76 290.77C455.92 291.63 457.03 292.87 458.05 292.38C459.66 291.59 460.97 289.83 461.33 287.56C463.60 273.52 462.29 265.50 464.62 251.60C464.92 249.83 467.57 246.96 467.91 248.39C470.20 258.13 468.84 267.80 471.20 279.53C471.47 280.90 474.14 279.79 474.48 281.14C476.77 290.07 476.41 295.60 477.77 305.22C479.04 314.22 479.51 318.75 481.06 327.70C482.14 333.91 482.89 342.40 484.35 343.11C485.52 343.68 486.18 335.75 487.64 330.91C488.81 327.01 489.50 325.09 490.92 321.28C492.13 318.03 493.00 316.50 494.21 313.25C495.63 309.44 496.28 307.50 497.50 303.62C498.91 299.15 499.38 296.84 500.79 292.38C502.01 288.50 503.48 286.75 504.08 282.74C506.11 269.16 505.04 261.65 507.36 248.39C507.67 246.62 509.19 246.26 510.65 245.17C511.82 244.30 512.62 244.17 513.94 243.50C515.25 242.83 515.97 242.59 517.23 241.82C518.60 240.99 519.23 240.46 520.52 239.49C521.86 238.48 522.50 237.93 523.80 236.87C525.13 235.79 525.78 235.23 527.09 234.13C528.41 233.03 529.04 232.44 530.38 231.37C531.67 230.34 532.35 229.87 533.67 228.88C534.98 227.88 535.96 227.66 536.95 226.39C538.59 224.29 538.68 222.64 540.24 220.45C541.31 218.94 542.22 218.46 543.53 217.13C544.85 215.80 545.50 215.14 546.82 213.81C548.13 212.49 548.79 211.82 550.11 210.49C551.42 209.18 552.08 208.54 553.39 207.23C554.71 205.93 555.51 205.40 556.68 203.97C558.14 202.20 558.74 201.19 559.97 199.26C561.37 197.06 561.94 195.88 563.26 193.64C564.57 191.39 565.20 190.24 566.55 188.02C567.83 185.90 568.52 184.87 569.83 182.77C571.15 180.67 571.81 179.62 573.12 177.53C574.44 175.43 574.84 172.92 576.41 172.28C577.47 171.85 578.38 173.82 579.70 174.85C581.01 175.88 581.62 176.46 582.98 177.42C584.25 178.32 584.96 178.67 586.27 179.51C587.59 180.34 588.16 180.95 589.56 181.59C590.79 182.17 591.53 182.17 592.85 182.56C594.16 182.94 595.69 184.57 596.14 183.52C598.32 178.41 598.32 173.73 599.42 167.14C600.95 158.00 600.44 151.51 602.71 144.19C603.07 143.01 604.66 145.26 606.00 145.89C607.29 146.50 608.01 147.36 609.29 147.27C610.64 147.18 611.47 146.42 612.58 145.45C614.10 144.10 614.70 141.19 615.86 141.47C617.33 141.82 617.69 144.91 619.15 147.03C620.32 148.71 621.23 149.31 622.44 150.96C623.86 152.89 624.54 153.90 625.73 155.99C627.17 158.50 627.80 159.81 629.02 162.44C630.43 165.50 630.76 167.21 632.30 170.19C633.39 172.31 634.02 173.44 635.59 175.17C636.65 176.33 637.55 176.55 638.88 177.44C640.18 178.31 640.90 178.64 642.17 179.56C643.53 180.54 644.50 180.83 645.45 182.17C647.13 184.52 647.25 186.23 648.74 188.77C649.88 190.72 650.40 191.96 652.03 193.38C653.03 194.25 653.97 194.31 655.32 194.50C656.60 194.68 657.37 194.02 658.61 194.30C660.00 194.62 660.85 195.01 661.89 196.00C663.48 197.51 663.61 199.02 665.18 200.55C666.24 201.58 667.12 201.73 668.47 202.41C669.75 203.06 670.74 204.37 671.76 203.87C673.37 203.08 673.73 201.05 675.05 199.18C676.36 197.30 677.91 192.87 678.33 194.48C680.54 202.92 680.69 212.34 681.62 224.30C683.32 246.04 683.73 281.03 684.91 278.73C686.36 275.89 686.55 218.24 688.20 211.46C689.18 207.40 690.18 251.74 691.48 251.62C692.81 251.50 693.04 216.04 694.77 210.86C695.67 208.16 697.46 223.42 698.06 231.92C700.09 260.69 698.96 275.46 701.35 304.03C701.59 306.95 703.44 307.94 704.64 310.64C706.07 313.87 706.67 315.54 707.92 318.85C709.30 322.49 710.91 331.05 711.21 328.02C713.54 304.49 712.72 263.16 714.50 252.45C715.35 247.34 716.49 288.70 717.79 288.47C719.12 288.23 718.94 260.74 721.08 251.28C721.57 249.08 723.85 255.90 724.36 259.30C726.48 273.49 725.32 283.65 727.65 295.27C727.95 296.75 729.91 293.56 730.94 292.06C732.54 289.71 732.96 288.24 734.23 285.66C735.59 282.87 736.56 281.56 737.52 278.62C739.19 273.48 738.79 270.26 740.80 265.46C741.42 263.99 742.72 263.09 744.09 262.96C745.35 262.84 746.64 263.59 747.38 264.82C749.27 267.94 749.56 270.17 750.67 273.84C752.19 278.87 752.38 281.57 753.95 286.58C755.01 289.94 755.81 291.55 757.24 294.77C758.44 297.47 759.01 298.87 760.53 301.39C761.64 303.22 762.50 303.94 763.82 305.65C765.13 307.35 765.79 308.20 767.11 309.90C768.42 311.60 769.10 312.44 770.39 314.16C771.73 315.93 772.36 316.85 773.68 318.63C774.99 320.39 775.65 321.26 776.97 323.02C778.28 324.78 778.94 325.66 780.26 327.41C781.57 329.17 782.24 330.04 783.55 331.81C784.87 333.60 785.52 334.51 786.83 336.32C788.15 338.14 788.81 339.05 790.12 340.86C791.44 342.68 792.09 343.59 793.41 345.41C794.72 347.23 795.28 348.22 796.70 349.95C797.91 351.44 798.67 352.05 799.98 353.46C801.30 354.86 801.97 355.55 803.27 356.96C804.60 358.39 805.25 359.13 806.56 360.57C807.88 362.02 808.53 362.75 809.85 364.19C811.16 365.62 811.77 366.37 813.14 367.75C814.40 369.03 815.11 369.60 816.42 370.84C817.74 372.07 818.40 372.69 819.71 373.93C821.03 375.16 821.68 375.78 823.00 377.02C824.32 378.25 824.97 378.87 826.29 380.11C827.60 381.34 828.18 382.05 829.58 383.19C830.81 384.21 831.42 384.99 832.86 385.50L836.15 385.50L839.44 385.50L842.73 385.50L846.02 385.50L849.30 385.50L852.59 385.50L855.88 385.50L859.17 385.50L862.45 385.50L865.74 385.50L869.03 385.50L872.32 385.50L875.61 385.50L878.89 385.50L882.18 385.50L885.47 385.50L888.76 385.50L892.05 385.50L895.33 385.50L898.62 385.50L901.91 385.50L905.20 385.50L908.48 385.50L911.77 385.50L915.06 385.50L918.35 385.50L921.64 385.50L924.92 385.50L928.21 385.50L931.50 385.50L934.79 385.50L938.08 385.50L941.36 385.50L944.65 385.50" fill="none" stroke="rgba(0,255,105,0.5)" stroke-width="1.0" stroke-linejoin="miter"/>

<line x1="63.5" y1="385.0" x2="944.7" y2="385.0" stroke="rgb(60,140,50)" stroke-width="1.8"/>
<path d="M63.50 363.66C64.82 363.54 65.47 363.47 66.79 363.34C68.10 363.21 68.76 363.04 70.08 363.02C71.39 363.01 72.05 363.17 73.36 363.26C74.68 363.36 75.34 363.41 76.65 363.50C77.97 363.60 78.62 363.65 79.94 363.74C81.25 363.84 81.91 364.00 83.23 363.99C84.54 363.97 85.20 363.79 86.52 363.66C87.83 363.54 88.48 363.41 89.80 363.34C91.12 363.28 92.09 362.71 93.09 363.34C94.72 364.37 94.98 365.92 96.38 367.52C97.61 368.94 98.14 369.92 99.67 370.89C100.77 371.59 101.64 371.37 102.95 371.69C104.27 372.01 104.91 372.26 106.24 372.50C107.54 372.72 108.21 372.73 109.53 372.85C110.84 372.97 111.50 373.00 112.82 373.09C114.13 373.19 114.81 373.12 116.11 373.34C117.44 373.56 118.12 373.73 119.39 374.18C120.75 374.64 121.32 375.19 122.68 375.61C123.95 376.01 124.64 376.10 125.97 376.24C127.27 376.38 127.94 376.29 129.26 376.32C130.57 376.36 131.23 376.37 132.55 376.41C133.86 376.44 134.52 376.46 135.83 376.49C137.15 376.53 137.81 376.54 139.12 376.58C140.44 376.61 141.15 376.37 142.41 376.66C143.78 376.98 144.39 377.51 145.70 378.11C147.02 378.73 147.60 379.34 148.98 379.72C150.23 380.06 150.96 379.96 152.27 379.92C153.59 379.88 154.24 379.60 155.56 379.52C156.87 379.44 157.56 379.34 158.85 379.53C160.19 379.74 160.79 380.35 162.14 380.52C163.42 380.69 164.11 380.43 165.42 380.37C166.74 380.31 167.40 380.28 168.71 380.22C170.03 380.16 170.68 380.13 172.00 380.07C173.32 380.01 173.97 379.92 175.29 379.93C176.60 379.93 177.26 379.99 178.58 380.08C179.89 380.18 180.55 380.32 181.86 380.38C183.18 380.43 183.84 380.43 185.15 380.35C186.47 380.28 187.12 380.15 188.44 380.01C189.75 379.88 190.41 379.77 191.73 379.67C193.04 379.57 193.71 379.43 195.02 379.50C196.34 379.57 196.99 379.81 198.30 380.01C199.62 380.22 200.27 380.49 201.59 380.52C202.90 380.55 203.56 380.31 204.88 380.17C206.19 380.02 206.85 379.90 208.17 379.81C209.48 379.72 210.15 379.63 211.45 379.71C212.78 379.79 213.42 380.10 214.74 380.21C216.05 380.32 216.72 380.27 218.03 380.24C219.35 380.21 220.00 380.14 221.32 380.07C222.63 380.00 223.29 379.96 224.61 379.89C225.92 379.82 226.58 379.71 227.89 379.72C229.21 379.73 229.87 379.86 231.18 379.96C232.50 380.06 233.16 380.22 234.47 380.20C235.79 380.18 236.45 380.02 237.76 379.84C239.08 379.67 239.76 379.66 241.05 379.32C242.39 378.96 243.50 379.13 244.33 378.11C246.13 375.95 246.96 374.27 247.62 371.37C249.59 362.71 249.30 351.26 250.91 349.21C251.93 347.92 252.94 357.49 254.20 363.02C255.57 369.05 255.71 375.87 257.48 378.11C258.34 379.21 260.18 374.28 260.77 371.37C262.81 361.31 262.37 348.65 264.06 345.68C265.00 344.02 266.18 354.13 267.35 359.81C268.82 366.97 268.41 371.50 270.64 377.79C271.04 378.95 272.65 378.59 273.92 378.44C275.29 378.27 275.85 377.39 277.21 376.99C278.48 376.62 279.18 376.67 280.50 376.51C281.81 376.35 282.48 376.12 283.79 376.19C285.11 376.25 285.78 376.89 287.08 376.83C288.41 376.77 289.77 376.97 290.36 375.87C292.40 372.09 292.31 369.12 293.65 364.63C294.94 360.32 295.96 352.68 296.94 353.87C298.59 355.89 298.20 365.44 300.23 372.66C300.83 374.81 301.85 376.13 303.52 377.31C304.48 377.99 305.49 377.41 306.80 377.31C308.13 377.21 308.87 377.28 310.09 376.83C311.50 376.32 312.69 376.18 313.38 374.90C315.32 371.30 315.70 368.82 316.67 364.63C318.33 357.46 318.86 345.25 319.95 346.49C321.49 348.21 321.11 362.11 323.24 372.01C323.74 374.31 324.84 375.63 326.53 376.99C327.47 377.75 328.50 377.25 329.82 377.31C331.13 377.38 331.83 377.53 333.11 377.31C334.46 377.08 335.66 377.25 336.39 376.19C338.29 373.46 338.43 371.20 339.68 367.84C341.06 364.14 341.93 357.66 342.97 358.53C344.56 359.85 344.36 367.64 346.26 373.30C346.99 375.48 347.86 376.84 349.55 378.11C350.49 378.83 351.52 378.31 352.83 378.27C354.15 378.24 355.01 378.53 356.12 377.95C357.64 377.18 358.97 376.59 359.41 374.90C361.60 366.44 361.41 352.40 362.70 352.59C364.04 352.78 364.05 371.27 365.98 375.87C366.68 377.50 367.42 369.97 369.27 368.16C370.05 367.40 371.84 368.35 372.56 369.44C374.47 372.33 374.12 374.90 375.85 378.11C376.75 379.79 377.73 381.44 379.14 381.65C380.36 381.83 381.59 380.46 382.42 379.08C384.22 376.10 384.52 370.38 385.71 370.73C387.15 371.15 387.00 377.59 389.00 381.00C389.63 382.09 390.95 381.76 392.29 381.97C393.58 382.16 394.26 381.99 395.58 382.00C396.89 382.02 397.55 382.02 398.86 382.04C400.18 382.05 400.84 382.06 402.15 382.07C403.47 382.09 404.12 382.10 405.44 382.11C406.75 382.12 407.41 382.13 408.73 382.15C410.04 382.16 410.70 382.17 412.02 382.18C413.33 382.20 413.99 382.20 415.30 382.22C416.62 382.23 417.28 382.24 418.59 382.25C419.91 382.27 420.57 382.20 421.88 382.29C423.20 382.38 423.85 382.55 425.17 382.72C426.48 382.89 427.14 382.97 428.45 383.15C429.77 383.32 430.42 383.49 431.74 383.57C433.05 383.66 434.81 384.77 435.03 383.57C437.44 370.58 436.36 355.18 438.32 348.09C438.99 345.67 440.77 355.03 441.61 359.81C443.40 369.99 444.31 385.50 444.89 385.50C446.94 365.32 445.78 325.07 448.18 294.95C448.41 292.06 450.52 299.65 451.47 302.97C453.15 308.90 454.12 311.93 454.76 318.07C456.75 337.24 456.02 355.76 458.05 366.23C458.65 369.38 460.48 350.03 461.33 352.10C463.11 356.45 462.34 370.69 464.62 382.29C464.97 384.05 467.79 385.50 467.91 385.50C470.42 349.95 468.71 327.30 471.20 289.17C471.34 286.96 474.06 283.11 474.48 284.67C476.69 292.74 476.35 301.83 477.77 313.25C478.98 322.90 479.25 327.81 481.06 337.33C481.88 341.68 483.03 347.93 484.35 347.93C485.66 347.93 486.30 341.57 487.64 337.33C488.93 333.22 489.57 331.16 490.92 327.06C492.20 323.19 492.90 321.28 494.21 317.42C495.53 313.57 496.14 311.63 497.50 307.79C498.77 304.18 499.47 302.40 500.79 298.80C502.10 295.20 503.54 293.58 504.08 289.81C506.17 274.96 505.02 266.78 507.36 252.24C507.65 250.47 509.19 250.11 510.65 249.03C511.82 248.16 512.62 248.02 513.94 247.35C515.25 246.68 515.97 246.44 517.23 245.68C518.60 244.84 519.23 244.31 520.52 243.34C521.86 242.33 522.50 241.78 523.80 240.72C525.13 239.64 525.78 239.08 527.09 237.99C528.41 236.88 529.04 236.29 530.38 235.22C531.67 234.19 532.35 233.73 533.67 232.73C534.98 231.74 535.96 231.52 536.95 230.24C538.59 228.15 538.68 226.50 540.24 224.30C541.31 222.79 542.22 222.31 543.53 220.98C544.85 219.66 545.50 218.99 546.82 217.67C548.13 216.34 548.79 215.67 550.11 214.35C551.42 213.04 552.08 212.39 553.39 211.09C554.71 209.78 555.37 209.13 556.68 207.83C558.00 206.52 558.44 205.17 559.97 204.56C561.07 204.12 562.00 204.77 563.26 205.20C564.63 205.66 565.18 206.28 566.55 206.80C567.81 207.28 568.50 207.55 569.83 207.69C571.13 207.83 571.81 207.58 573.12 207.51C574.44 207.44 575.09 207.40 576.41 207.33C577.72 207.25 578.38 207.22 579.70 207.14C581.01 207.07 581.67 207.02 582.98 206.96C584.30 206.90 584.96 206.89 586.27 206.84C587.59 206.79 588.25 206.77 589.56 206.72C590.88 206.67 591.53 206.65 592.85 206.60C594.16 206.55 596.04 205.22 596.14 206.48C598.67 239.53 598.12 258.02 599.42 292.38C600.75 327.19 600.18 345.92 602.71 379.40C602.81 380.66 604.68 379.28 606.00 379.24C607.31 379.20 607.97 379.22 609.29 379.21C610.60 379.20 611.26 379.20 612.58 379.18C613.89 379.17 614.55 379.17 615.86 379.16C617.18 379.15 617.84 379.14 619.15 379.13C620.47 379.12 621.12 379.12 622.44 379.10C623.75 379.09 624.44 379.27 625.73 379.08C627.07 378.88 627.70 378.11 629.02 378.11C630.33 378.11 630.96 378.88 632.30 379.08C633.59 379.27 634.28 379.08 635.59 379.09L638.88 379.10L642.17 379.11L645.45 379.11L648.74 379.12L652.03 379.13L655.32 379.14L658.61 379.15L661.89 379.16L665.18 379.17L668.47 379.18L671.76 379.19L675.05 379.20L678.33 379.21L681.62 379.21L684.91 379.22C686.22 379.23 686.90 379.09 688.20 379.23C689.53 379.37 690.23 379.47 691.48 379.93C692.87 380.43 693.40 381.12 694.77 381.65C696.03 382.13 696.73 382.19 698.06 382.45C699.36 382.70 700.03 382.84 701.35 382.93C702.66 383.03 703.32 382.94 704.64 382.94L707.92 382.95L711.21 382.96L714.50 382.97L717.79 382.98L721.08 382.98L724.36 382.99L727.65 383.00L730.94 383.01L734.23 383.02L737.52 383.02L740.80 383.03L744.09 383.04L747.38 383.05L750.67 383.06L753.95 383.06L757.24 383.07L760.53 383.08L763.82 383.09L767.11 383.10L770.39 383.11L773.68 383.11L776.97 383.12L780.26 383.13L783.55 383.14L786.83 383.15L790.12 383.15L793.41 383.16L796.70 383.17L799.98 383.18L803.27 383.19L806.56 383.20L809.85 383.20L813.14 383.21L816.42 383.22L819.71 383.23L823.00 383.24L826.29 383.24C827.60 383.25 828.26 383.31 829.58 383.25C830.89 383.19 831.72 383.47 832.86 382.93C834.35 382.23 834.84 381.26 836.15 380.15C837.47 379.04 838.07 378.41 839.44 377.37C840.70 376.42 841.34 375.92 842.73 375.18C843.97 374.51 844.70 374.39 846.02 373.86C847.33 373.33 847.99 373.07 849.30 372.54C850.62 372.01 851.28 371.75 852.59 371.23C853.91 370.70 854.56 370.44 855.88 369.92C857.19 369.40 857.97 369.33 859.17 368.61C860.60 367.75 861.13 367.01 862.45 365.95C863.76 364.91 864.38 364.33 865.74 363.36C867.01 362.45 867.82 361.05 869.03 361.26C870.45 361.50 870.85 364.08 872.32 364.47C873.48 364.77 874.25 363.45 875.61 362.97C876.88 362.51 877.56 362.33 878.89 362.12C880.19 361.92 880.87 362.00 882.18 361.92C883.50 361.85 884.15 361.81 885.47 361.73C886.78 361.65 887.44 361.61 888.76 361.53C890.07 361.45 890.74 361.27 892.05 361.33C893.37 361.40 894.03 361.62 895.33 361.88C896.66 362.13 897.30 362.56 898.62 362.60C899.93 362.64 900.59 362.30 901.91 362.10C903.22 361.89 903.88 361.79 905.20 361.59C906.51 361.39 907.16 361.21 908.48 361.09C909.79 360.97 910.46 360.99 911.77 360.99C913.09 360.98 913.75 361.03 915.06 361.06C916.38 361.09 917.03 361.10 918.35 361.13C919.66 361.16 920.32 361.25 921.64 361.21C922.95 361.16 923.64 361.19 924.92 360.92C926.27 360.64 926.91 359.77 928.21 359.81C929.54 359.85 930.14 360.81 931.50 361.12C932.77 361.42 933.47 361.27 934.79 361.33C936.10 361.39 936.76 361.38 938.08 361.41C939.39 361.45 940.05 361.46 941.36 361.49C942.68 361.53 943.34 361.54 944.65 361.58" fill="none" stroke="rgba(235,0,0,0.58)" stroke-width="0.95" stroke-linejoin="miter"/>

<line x1="339.7" y1="385.0" x2="852.6" y2="385.0" stroke="rgb(175,100,30)" stroke-width="1.8"/>
</g>
<text x="53.7" y="388.3" text-anchor="end" font-family="Liberation Sans, Arial, Helvetica, sans-serif" font-size="11" fill="#4f4f4f" stroke="#4f4f4f" stroke-width="0.25">0</text>
<text x="53.7" y="356.2" text-anchor="end" font-family="Liberation Sans, Arial, Helvetica, sans-serif" font-size="11" fill="#4f4f4f" stroke="#4f4f4f" stroke-width="0.25">1000</text>
<text x="53.7" y="324.1" text-anchor="end" font-family="Liberation Sans, Arial, Helvetica, sans-serif" font-size="11" fill="#4f4f4f" stroke="#4f4f4f" stroke-width="0.25">2000</text>
<text x="53.7" y="292.0" text-anchor="end" font-family="Liberation Sans, Arial, Helvetica, sans-serif" font-size="11" fill="#4f4f4f" stroke="#4f4f4f" stroke-width="0.25">3000</text>
<text x="53.7" y="259.9" text-anchor="end" font-family="Liberation Sans, Arial, Helvetica, sans-serif" font-size="11" fill="#4f4f4f" stroke="#4f4f4f" stroke-width="0.25">4000</text>
<text x="53.7" y="227.7" text-anchor="end" font-family="Liberation Sans, Arial, Helvetica, sans-serif" font-size="11" fill="#4f4f4f" stroke="#4f4f4f" stroke-width="0.25">5000</text>
<text x="53.7" y="195.6" text-anchor="end" font-family="Liberation Sans, Arial, Helvetica, sans-serif" font-size="11" fill="#4f4f4f" stroke="#4f4f4f" stroke-width="0.25">6000</text>
<text x="53.7" y="163.5" text-anchor="end" font-family="Liberation Sans, Arial, Helvetica, sans-serif" font-size="11" fill="#4f4f4f" stroke="#4f4f4f" stroke-width="0.25">7000</text>
<text x="53.7" y="131.4" text-anchor="end" font-family="Liberation Sans, Arial, Helvetica, sans-serif" font-size="11" fill="#4f4f4f" stroke="#4f4f4f" stroke-width="0.25">8000</text>
<text x="53.7" y="99.3" text-anchor="end" font-family="Liberation Sans, Arial, Helvetica, sans-serif" font-size="11" fill="#4f4f4f" stroke="#4f4f4f" stroke-width="0.25">9000</text>
<text x="954.0" y="99.3" text-anchor="start" font-family="Liberation Sans, Arial, Helvetica, sans-serif" font-size="11" fill="#4f4f4f" stroke="#4f4f4f" stroke-width="0.25">100</text>
<text x="954.0" y="128.5" text-anchor="start" font-family="Liberation Sans, Arial, Helvetica, sans-serif" font-size="11" fill="#4f4f4f" stroke="#4f4f4f" stroke-width="0.25">90</text>
<text x="954.0" y="157.7" text-anchor="start" font-family="Liberation Sans, Arial, Helvetica, sans-serif" font-size="11" fill="#4f4f4f" stroke="#4f4f4f" stroke-width="0.25">80</text>
<text x="954.0" y="186.9" text-anchor="start" font-family="Liberation Sans, Arial, Helvetica, sans-serif" font-size="11" fill="#4f4f4f" stroke="#4f4f4f" stroke-width="0.25">70</text>
<text x="954.0" y="216.1" text-anchor="start" font-family="Liberation Sans, Arial, Helvetica, sans-serif" font-size="11" fill="#4f4f4f" stroke="#4f4f4f" stroke-width="0.25">60</text>
<text x="954.0" y="245.3" text-anchor="start" font-family="Liberation Sans, Arial, Helvetica, sans-serif" font-size="11" fill="#4f4f4f" stroke="#4f4f4f" stroke-width="0.25">50</text>
<text x="954.0" y="274.5" text-anchor="start" font-family="Liberation Sans, Arial, Helvetica, sans-serif" font-size="11" fill="#4f4f4f" stroke="#4f4f4f" stroke-width="0.25">40</text>
<text x="954.0" y="303.6" text-anchor="start" font-family="Liberation Sans, Arial, Helvetica, sans-serif" font-size="11" fill="#4f4f4f" stroke="#4f4f4f" stroke-width="0.25">30</text>
<text x="954.0" y="332.8" text-anchor="start" font-family="Liberation Sans, Arial, Helvetica, sans-serif" font-size="11" fill="#4f4f4f" stroke="#4f4f4f" stroke-width="0.25">20</text>
<text x="954.0" y="362.0" text-anchor="start" font-family="Liberation Sans, Arial, Helvetica, sans-serif" font-size="11" fill="#4f4f4f" stroke="#4f4f4f" stroke-width="0.25">10</text>
<text x="954.0" y="388.3" text-anchor="start" font-family="Liberation Sans, Arial, Helvetica, sans-serif" font-size="11" fill="#4f4f4f" stroke="#4f4f4f" stroke-width="0.25">1</text>
<text transform="translate(63.6,394.8) rotate(-48.5)" text-anchor="end" dominant-baseline="middle" font-family="Liberation Sans, Arial, Helvetica, sans-serif" font-size="11" fill="#4f4f4f" stroke="#4f4f4f" stroke-width="0.25">00:05</text>
<text transform="translate(83.3,394.8) rotate(-48.5)" text-anchor="end" dominant-baseline="middle" font-family="Liberation Sans, Arial, Helvetica, sans-serif" font-size="11" fill="#4f4f4f" stroke="#4f4f4f" stroke-width="0.25">00:35</text>
<text transform="translate(103.1,394.8) rotate(-48.5)" text-anchor="end" dominant-baseline="middle" font-family="Liberation Sans, Arial, Helvetica, sans-serif" font-size="11" fill="#4f4f4f" stroke="#4f4f4f" stroke-width="0.25">01:05</text>
<text transform="translate(122.8,394.8) rotate(-48.5)" text-anchor="end" dominant-baseline="middle" font-family="Liberation Sans, Arial, Helvetica, sans-serif" font-size="11" fill="#4f4f4f" stroke="#4f4f4f" stroke-width="0.25">01:35</text>
<text transform="translate(142.5,394.8) rotate(-48.5)" text-anchor="end" dominant-baseline="middle" font-family="Liberation Sans, Arial, Helvetica, sans-serif" font-size="11" fill="#4f4f4f" stroke="#4f4f4f" stroke-width="0.25">02:05</text>
<text transform="translate(162.2,394.8) rotate(-48.5)" text-anchor="end" dominant-baseline="middle" font-family="Liberation Sans, Arial, Helvetica, sans-serif" font-size="11" fill="#4f4f4f" stroke="#4f4f4f" stroke-width="0.25">02:35</text>
<text transform="translate(182.0,394.8) rotate(-48.5)" text-anchor="end" dominant-baseline="middle" font-family="Liberation Sans, Arial, Helvetica, sans-serif" font-size="11" fill="#4f4f4f" stroke="#4f4f4f" stroke-width="0.25">03:05</text>
<text transform="translate(201.7,394.8) rotate(-48.5)" text-anchor="end" dominant-baseline="middle" font-family="Liberation Sans, Arial, Helvetica, sans-serif" font-size="11" fill="#4f4f4f" stroke="#4f4f4f" stroke-width="0.25">03:35</text>
<text transform="translate(221.4,394.8) rotate(-48.5)" text-anchor="end" dominant-baseline="middle" font-family="Liberation Sans, Arial, Helvetica, sans-serif" font-size="11" fill="#4f4f4f" stroke="#4f4f4f" stroke-width="0.25">04:05</text>
<text transform="translate(241.1,394.8) rotate(-48.5)" text-anchor="end" dominant-baseline="middle" font-family="Liberation Sans, Arial, Helvetica, sans-serif" font-size="11" fill="#4f4f4f" stroke="#4f4f4f" stroke-width="0.25">04:35</text>
<text transform="translate(260.9,394.8) rotate(-48.5)" text-anchor="end" dominant-baseline="middle" font-family="Liberation Sans, Arial, Helvetica, sans-serif" font-size="11" fill="#4f4f4f" stroke="#4f4f4f" stroke-width="0.25">05:05</text>
<text transform="translate(280.6,394.8) rotate(-48.5)" text-anchor="end" dominant-baseline="middle" font-family="Liberation Sans, Arial, Helvetica, sans-serif" font-size="11" fill="#4f4f4f" stroke="#4f4f4f" stroke-width="0.25">05:35</text>
<text transform="translate(300.3,394.8) rotate(-48.5)" text-anchor="end" dominant-baseline="middle" font-family="Liberation Sans, Arial, Helvetica, sans-serif" font-size="11" fill="#4f4f4f" stroke="#4f4f4f" stroke-width="0.25">06:05</text>
<text transform="translate(320.1,394.8) rotate(-48.5)" text-anchor="end" dominant-baseline="middle" font-family="Liberation Sans, Arial, Helvetica, sans-serif" font-size="11" fill="#4f4f4f" stroke="#4f4f4f" stroke-width="0.25">06:35</text>
<text transform="translate(339.8,394.8) rotate(-48.5)" text-anchor="end" dominant-baseline="middle" font-family="Liberation Sans, Arial, Helvetica, sans-serif" font-size="11" fill="#4f4f4f" stroke="#4f4f4f" stroke-width="0.25">07:05</text>
<text transform="translate(359.5,394.8) rotate(-48.5)" text-anchor="end" dominant-baseline="middle" font-family="Liberation Sans, Arial, Helvetica, sans-serif" font-size="11" fill="#4f4f4f" stroke="#4f4f4f" stroke-width="0.25">07:35</text>
<text transform="translate(379.2,394.8) rotate(-48.5)" text-anchor="end" dominant-baseline="middle" font-family="Liberation Sans, Arial, Helvetica, sans-serif" font-size="11" fill="#4f4f4f" stroke="#4f4f4f" stroke-width="0.25">08:05</text>
<text transform="translate(399.0,394.8) rotate(-48.5)" text-anchor="end" dominant-baseline="middle" font-family="Liberation Sans, Arial, Helvetica, sans-serif" font-size="11" fill="#4f4f4f" stroke="#4f4f4f" stroke-width="0.25">08:35</text>
<text transform="translate(418.7,394.8) rotate(-48.5)" text-anchor="end" dominant-baseline="middle" font-family="Liberation Sans, Arial, Helvetica, sans-serif" font-size="11" fill="#4f4f4f" stroke="#4f4f4f" stroke-width="0.25">09:05</text>
<text transform="translate(438.4,394.8) rotate(-48.5)" text-anchor="end" dominant-baseline="middle" font-family="Liberation Sans, Arial, Helvetica, sans-serif" font-size="11" fill="#4f4f4f" stroke="#4f4f4f" stroke-width="0.25">09:35</text>
<text transform="translate(458.1,394.8) rotate(-48.5)" text-anchor="end" dominant-baseline="middle" font-family="Liberation Sans, Arial, Helvetica, sans-serif" font-size="11" fill="#4f4f4f" stroke="#4f4f4f" stroke-width="0.25">10:05</text>
<text transform="translate(477.9,394.8) rotate(-48.5)" text-anchor="end" dominant-baseline="middle" font-family="Liberation Sans, Arial, Helvetica, sans-serif" font-size="11" fill="#4f4f4f" stroke="#4f4f4f" stroke-width="0.25">10:35</text>
<text transform="translate(497.6,394.8) rotate(-48.5)" text-anchor="end" dominant-baseline="middle" font-family="Liberation Sans, Arial, Helvetica, sans-serif" font-size="11" fill="#4f4f4f" stroke="#4f4f4f" stroke-width="0.25">11:05</text>
<text transform="translate(517.3,394.8) rotate(-48.5)" text-anchor="end" dominant-baseline="middle" font-family="Liberation Sans, Arial, Helvetica, sans-serif" font-size="11" fill="#4f4f4f" stroke="#4f4f4f" stroke-width="0.25">11:35</text>
<text transform="translate(537.1,394.8) rotate(-48.5)" text-anchor="end" dominant-baseline="middle" font-family="Liberation Sans, Arial, Helvetica, sans-serif" font-size="11" fill="#4f4f4f" stroke="#4f4f4f" stroke-width="0.25">12:05</text>
<text transform="translate(556.8,394.8) rotate(-48.5)" text-anchor="end" dominant-baseline="middle" font-family="Liberation Sans, Arial, Helvetica, sans-serif" font-size="11" fill="#4f4f4f" stroke="#4f4f4f" stroke-width="0.25">12:35</text>
<text transform="translate(576.5,394.8) rotate(-48.5)" text-anchor="end" dominant-baseline="middle" font-family="Liberation Sans, Arial, Helvetica, sans-serif" font-size="11" fill="#4f4f4f" stroke="#4f4f4f" stroke-width="0.25">13:05</text>
<text transform="translate(596.2,394.8) rotate(-48.5)" text-anchor="end" dominant-baseline="middle" font-family="Liberation Sans, Arial, Helvetica, sans-serif" font-size="11" fill="#4f4f4f" stroke="#4f4f4f" stroke-width="0.25">13:35</text>
<text transform="translate(616.0,394.8) rotate(-48.5)" text-anchor="end" dominant-baseline="middle" font-family="Liberation Sans, Arial, Helvetica, sans-serif" font-size="11" fill="#4f4f4f" stroke="#4f4f4f" stroke-width="0.25">14:05</text>
<text transform="translate(635.7,394.8) rotate(-48.5)" text-anchor="end" dominant-baseline="middle" font-family="Liberation Sans, Arial, Helvetica, sans-serif" font-size="11" fill="#4f4f4f" stroke="#4f4f4f" stroke-width="0.25">14:35</text>
<text transform="translate(655.4,394.8) rotate(-48.5)" text-anchor="end" dominant-baseline="middle" font-family="Liberation Sans, Arial, Helvetica, sans-serif" font-size="11" fill="#4f4f4f" stroke="#4f4f4f" stroke-width="0.25">15:05</text>
<text transform="translate(675.1,394.8) rotate(-48.5)" text-anchor="end" dominant-baseline="middle" font-family="Liberation Sans, Arial, Helvetica, sans-serif" font-size="11" fill="#4f4f4f" stroke="#4f4f4f" stroke-width="0.25">15:35</text>
<text transform="translate(694.9,394.8) rotate(-48.5)" text-anchor="end" dominant-baseline="middle" font-family="Liberation Sans, Arial, Helvetica, sans-serif" font-size="11" fill="#4f4f4f" stroke="#4f4f4f" stroke-width="0.25">16:05</text>
<text transform="translate(714.6,394.8) rotate(-48.5)" text-anchor="end" dominant-baseline="middle" font-family="Liberation Sans, Arial, Helvetica, sans-serif" font-size="11" fill="#4f4f4f" stroke="#4f4f4f" stroke-width="0.25">16:35</text>
<text transform="translate(734.3,394.8) rotate(-48.5)" text-anchor="end" dominant-baseline="middle" font-family="Liberation Sans, Arial, Helvetica, sans-serif" font-size="11" fill="#4f4f4f" stroke="#4f4f4f" stroke-width="0.25">17:05</text>
<text transform="translate(754.1,394.8) rotate(-48.5)" text-anchor="end" dominant-baseline="middle" font-family="Liberation Sans, Arial, Helvetica, sans-serif" font-size="11" fill="#4f4f4f" stroke="#4f4f4f" stroke-width="0.25">17:35</text>
<text transform="translate(773.8,394.8) rotate(-48.5)" text-anchor="end" dominant-baseline="middle" font-family="Liberation Sans, Arial, Helvetica, sans-serif" font-size="11" fill="#4f4f4f" stroke="#4f4f4f" stroke-width="0.25">18:05</text>
<text transform="translate(793.5,394.8) rotate(-48.5)" text-anchor="end" dominant-baseline="middle" font-family="Liberation Sans, Arial, Helvetica, sans-serif" font-size="11" fill="#4f4f4f" stroke="#4f4f4f" stroke-width="0.25">18:35</text>
<text transform="translate(813.2,394.8) rotate(-48.5)" text-anchor="end" dominant-baseline="middle" font-family="Liberation Sans, Arial, Helvetica, sans-serif" font-size="11" fill="#4f4f4f" stroke="#4f4f4f" stroke-width="0.25">19:05</text>
<text transform="translate(833.0,394.8) rotate(-48.5)" text-anchor="end" dominant-baseline="middle" font-family="Liberation Sans, Arial, Helvetica, sans-serif" font-size="11" fill="#4f4f4f" stroke="#4f4f4f" stroke-width="0.25">19:35</text>
<text transform="translate(852.7,394.8) rotate(-48.5)" text-anchor="end" dominant-baseline="middle" font-family="Liberation Sans, Arial, Helvetica, sans-serif" font-size="11" fill="#4f4f4f" stroke="#4f4f4f" stroke-width="0.25">20:05</text>
<text transform="translate(872.4,394.8) rotate(-48.5)" text-anchor="end" dominant-baseline="middle" font-family="Liberation Sans, Arial, Helvetica, sans-serif" font-size="11" fill="#4f4f4f" stroke="#4f4f4f" stroke-width="0.25">20:35</text>
<text transform="translate(892.1,394.8) rotate(-48.5)" text-anchor="end" dominant-baseline="middle" font-family="Liberation Sans, Arial, Helvetica, sans-serif" font-size="11" fill="#4f4f4f" stroke="#4f4f4f" stroke-width="0.25">21:05</text>
<text transform="translate(911.9,394.8) rotate(-48.5)" text-anchor="end" dominant-baseline="middle" font-family="Liberation Sans, Arial, Helvetica, sans-serif" font-size="11" fill="#4f4f4f" stroke="#4f4f4f" stroke-width="0.25">21:35</text>
<text transform="translate(931.6,394.8) rotate(-48.5)" text-anchor="end" dominant-baseline="middle" font-family="Liberation Sans, Arial, Helvetica, sans-serif" font-size="11" fill="#4f4f4f" stroke="#4f4f4f" stroke-width="0.25">22:05</text>
<text transform="translate(16.8,241.0) rotate(-90)" text-anchor="middle" font-family="Liberation Sans, Arial, Helvetica, sans-serif" font-size="11" fill="#7d7d7d">Leistung [W]</text>
<text transform="translate(985.0,241.0) rotate(90)" text-anchor="middle" font-family="Liberation Sans, Arial, Helvetica, sans-serif" font-size="11" fill="#7d7d7d">SoC [%]</text>
<rect x="15.2" y="428.4" width="36.6" height="11" fill="rgba(255,10,13,0.3)" stroke="rgba(225,30,45,0.7)" stroke-width="0.9"/>
<text x="57.5" y="436.9" textLength="83.6" lengthAdjust="spacing" font-family="Liberation Sans, Arial, Helvetica, sans-serif" font-size="11" fill="#4f4f4f" stroke="#4f4f4f" stroke-width="0.25">Bezug 20.57 kWh</text>
<rect x="150.1" y="428.4" width="36.6" height="11" fill="rgba(0,255,255,0.3)" stroke="rgba(40,225,150,0.55)" stroke-width="1.1"/>
<text x="192.4" y="436.9" textLength="116.6" lengthAdjust="spacing" font-family="Liberation Sans, Arial, Helvetica, sans-serif" font-size="11" fill="#4f4f4f" stroke="#4f4f4f" stroke-width="0.25">Einspeisung 42.54 kWh</text>
<rect x="318.1" y="428.4" width="36.6" height="11" fill="rgba(10,255,13,0.3)" stroke="green" stroke-width="0.9"/>
<text x="360.3" y="436.9" textLength="66.1" lengthAdjust="spacing" font-family="Liberation Sans, Arial, Helvetica, sans-serif" font-size="11" fill="#4f4f4f" stroke="#4f4f4f" stroke-width="0.25">PV 51.74 kWh</text>
<rect x="435.9" y="428.4" width="36.6" height="11" fill="rgba(0,0,255,0.1)" stroke="rgba(50,50,55,0.1)" stroke-width="1.8"/>
<text x="478.5" y="436.9" textLength="107.8" lengthAdjust="spacing" font-family="Liberation Sans, Arial, Helvetica, sans-serif" font-size="11" fill="#4f4f4f" stroke="#4f4f4f" stroke-width="0.25">Lp Gesamt 17.59 kWh</text>
<rect x="595.4" y="428.4" width="36.6" height="11" fill="rgba(0,0,255,0.7)" stroke="rgba(0,0,255,0.7)" stroke-width="0.9"/>
<text x="637.3" y="436.9" textLength="72.3" lengthAdjust="spacing" font-family="Liberation Sans, Arial, Helvetica, sans-serif" font-size="11" fill="#4f4f4f" stroke="#4f4f4f" stroke-width="0.25">Lp1 17.59 kWh</text>
<rect x="718.8" y="428.4" width="36.6" height="11" fill="rgba(0,0,255,0.5)" stroke="rgba(0,0,255,0.5)" stroke-width="1.8" stroke-dasharray="9 4.5"/>
<text x="761.5" y="436.9" textLength="44.0" lengthAdjust="spacing" font-family="Liberation Sans, Arial, Helvetica, sans-serif" font-size="11" fill="#4f4f4f" stroke="#4f4f4f" stroke-width="0.25">SoC Lp 1</text>
<rect x="814.9" y="428.4" width="36.6" height="11" fill="rgba(150,150,0,0.7)" stroke="rgba(150,150,0,0.7)" stroke-width="1.8"/>
<text x="857.4" y="436.9" textLength="128.0" lengthAdjust="spacing" font-family="Liberation Sans, Arial, Helvetica, sans-serif" font-size="11" fill="#4f4f4f" stroke="#4f4f4f" stroke-width="0.25">Hausverbrauch 12.18 kWh</text>
</svg>
<div id="title"><span id="tt"><span style="letter-spacing:0.5px">Logging</span><span style="letter-spacing:1.6px"> </span><span style="letter-spacing:-0.68px">Tagesansicht</span></span></div>
<svg class="ico" style="left:344px;top:46px" width="19" height="18" viewBox="0 0 19 18"><rect x="1.35" y="1.05" width="16.3" height="16" rx="1.5" ry="1.5" fill="#fff" stroke="#212529" stroke-width="1.7"/><path d="M11.7 4.8 L11.7 13.3 L6.2 9.05 Z" fill="#212529"/></svg>
<div id="datebox"><span class="txt" id="dt">Di, 07.04.2020</span><span class="sep"></span>
<svg class="ico" style="left:198.3px;top:7px" width="18" height="20.6" viewBox="0 0 448 512"><g fill="#495057"><rect x="96" y="0" width="64" height="110" rx="12"/><rect x="288" y="0" width="64" height="110" rx="12"/><path fill-rule="evenodd" d="M48 64h352a48 48 0 0 1 48 48v352a48 48 0 0 1-48 48H48a48 48 0 0 1-48-48V112a48 48 0 0 1 48-48zM48 160v298a6 6 0 0 0 6 6h340a6 6 0 0 0 6-6V160z"/><rect x="96" y="224" width="64" height="64" rx="12"/><rect x="192" y="224" width="64" height="64" rx="12"/><rect x="288" y="224" width="64" height="64" rx="12"/><rect x="96" y="320" width="64" height="64" rx="12"/><rect x="192" y="320" width="64" height="64" rx="12"/><rect x="288" y="320" width="64" height="64" rx="12"/></g></svg>
</div>
<svg class="ico" style="left:639px;top:46px" width="19" height="18" viewBox="0 0 19 18"><rect x="1.35" y="1.05" width="16.3" height="16" rx="1.5" ry="1.5" fill="#fff" stroke="#212529" stroke-width="1.7"/><path d="M7.3 4.8 L7.3 13.3 L12.8 9.05 Z" fill="#212529"/></svg>
</body>
</html>
